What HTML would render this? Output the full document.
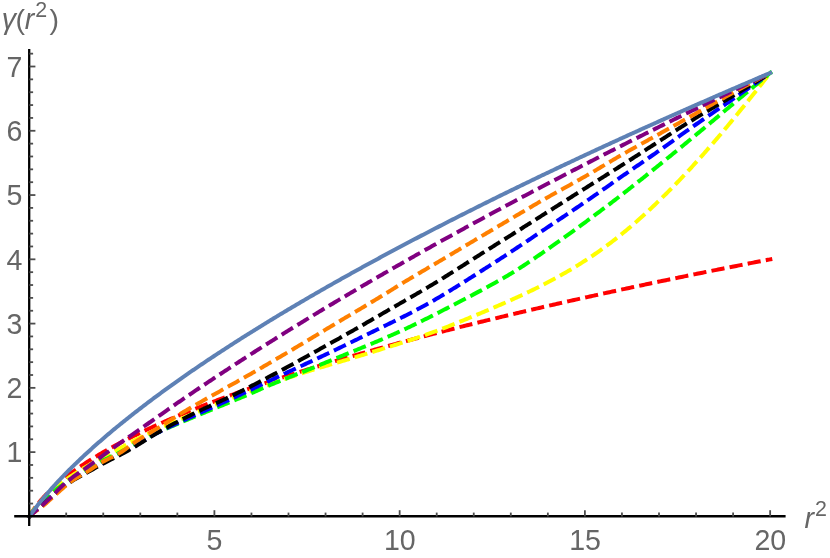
<!DOCTYPE html>
<html><head><meta charset="utf-8"><title>plot</title>
<style>
html,body{margin:0;padding:0;background:#fff;}
body{width:830px;height:558px;position:relative;overflow:hidden;font-family:"Liberation Sans",sans-serif;}
svg{display:block}
</style></head><body>
<svg width="830" height="558" viewBox="0 0 830 558" style="position:absolute;left:0;top:0">
<rect width="830" height="558" fill="#fff"/>
<path d="M29.30,516.40 L29.92,515.35 L30.54,514.32 L31.15,513.33 L31.77,512.37 L32.39,511.43 L33.01,510.51 L33.62,509.62 L34.24,508.74 L34.86,507.89 L35.48,507.05 L36.09,506.23 L36.71,505.42 L37.33,504.63 L37.95,503.85 L38.56,503.09 L39.18,502.34 L39.80,501.60 L40.41,500.87 L41.03,500.15 L41.65,499.45 L42.27,498.75 L42.88,498.06 L43.50,497.39 L44.12,496.72 L44.74,496.06 L45.36,495.41 L45.97,494.76 L46.59,494.13 L47.21,493.50 L47.83,492.88 L48.44,492.26 L49.06,491.65 L49.68,491.05 L50.30,490.45 L50.91,489.86 L51.53,489.28 L52.15,488.70 L52.77,488.13 L53.38,487.56 L54.00,487.00 L54.62,486.44 L55.23,485.89 L55.85,485.35 L56.47,484.80 L57.09,484.26 L57.70,483.73 L58.32,483.20 L58.94,482.68 L59.56,482.16 L60.17,481.64 L60.79,481.13 L61.41,480.62 L62.03,480.11 L62.64,479.61 L63.26,479.12 L63.88,478.62 L64.50,478.13 L65.11,477.64 L65.73,477.16 L66.35,476.68 L67.76,475.59 L69.17,474.52 L70.58,473.47 L71.99,472.43 L73.40,471.40 L74.81,470.39 L76.23,469.39 L77.64,468.40 L79.05,467.43 L80.46,466.46 L81.87,465.51 L83.28,464.57 L84.69,463.64 L86.10,462.71 L87.51,461.80 L88.92,460.90 L90.33,460.01 L91.74,459.12 L93.15,458.25 L94.56,457.38 L95.98,456.52 L97.39,455.67 L98.80,454.83 L100.21,453.99 L101.62,453.17 L103.03,452.34 L104.44,451.53 L105.85,450.72 L107.26,449.92 L108.67,449.13 L110.08,448.34 L111.49,447.56 L112.90,446.78 L114.31,446.01 L115.73,445.25 L117.14,444.49 L118.55,443.74 L119.96,442.99 L121.37,442.25 L122.78,441.51 L124.19,440.78 L125.60,440.05 L127.01,439.33 L128.42,438.61 L129.83,437.90 L131.24,437.19 L132.65,436.48 L134.06,435.78 L135.48,435.09 L136.89,434.40 L138.30,433.71 L139.71,433.03 L141.12,432.35 L142.53,431.67 L143.94,431.00 L145.35,430.34 L146.76,429.67 L148.17,429.01 L149.58,428.36 L150.99,427.70 L152.40,427.06 L153.81,426.41 L155.23,425.77 L156.64,425.13 L158.05,424.49 L159.46,423.86 L160.87,423.23 L162.28,422.61 L163.69,421.98 L165.10,421.36 L166.51,420.75 L167.92,420.13 L169.33,419.52 L170.74,418.91 L172.15,418.31 L173.56,417.71 L174.98,417.11 L176.39,416.51 L177.80,415.91 L179.21,415.32 L180.62,414.73 L182.03,414.15 L183.44,413.56 L184.85,412.98 L186.26,412.40 L187.67,411.83 L189.08,411.25 L190.49,410.68 L191.90,410.11 L193.31,409.54 L194.73,408.98 L196.14,408.42 L197.55,407.86 L198.96,407.30 L200.37,406.74 L201.78,406.19 L203.19,405.64 L204.60,405.09 L206.01,404.54 L207.42,404.00 L208.83,403.45 L210.24,402.91 L211.65,402.37 L213.07,401.84 L214.48,401.30 L215.89,400.77 L217.30,400.24 L218.71,399.71 L220.12,399.18 L221.53,398.66 L222.94,398.13 L224.35,397.61 L225.76,397.09 L227.17,396.57 L228.58,396.05 L229.99,395.54 L231.40,395.03 L232.82,394.51 L234.23,394.01 L235.64,393.50 L237.05,392.99 L238.46,392.49 L239.87,391.98 L241.28,391.48 L242.69,390.98 L244.10,390.48 L245.51,389.99 L246.92,389.49 L248.33,389.00 L249.74,388.51 L251.15,388.01 L252.57,387.53 L253.98,387.04 L255.39,386.55 L256.80,386.07 L258.21,385.58 L259.62,385.10 L261.03,384.62 L262.44,384.14 L263.85,383.66 L265.26,383.19 L266.67,382.71 L268.08,382.24 L269.49,381.77 L270.90,381.30 L272.32,380.83 L273.73,380.36 L275.14,379.89 L276.55,379.43 L277.96,378.96 L279.37,378.50 L280.78,378.04 L282.19,377.58 L283.60,377.12 L285.01,376.66 L286.42,376.20 L287.83,375.75 L289.24,375.29 L290.65,374.84 L292.07,374.39 L293.48,373.94 L294.89,373.49 L296.30,373.04 L297.71,372.59 L299.12,372.14 L300.53,371.70 L301.94,371.25 L303.35,370.81 L304.76,370.37 L306.17,369.93 L307.58,369.49 L308.99,369.05 L310.40,368.61 L311.82,368.17 L313.23,367.74 L314.64,367.30 L316.05,366.87 L317.46,366.44 L318.87,366.01 L320.28,365.58 L321.69,365.15 L323.10,364.72 L324.51,364.29 L325.92,363.87 L327.33,363.44 L328.74,363.02 L330.15,362.59 L331.57,362.17 L332.98,361.75 L334.39,361.33 L335.80,360.91 L337.21,360.49 L338.62,360.07 L340.03,359.66 L341.44,359.24 L342.85,358.82 L344.26,358.41 L345.67,358.00 L347.08,357.59 L348.49,357.17 L349.91,356.76 L351.32,356.35 L352.73,355.95 L354.14,355.54 L355.55,355.13 L356.96,354.72 L358.37,354.32 L359.78,353.91 L361.19,353.51 L362.60,353.11 L364.01,352.71 L365.42,352.30 L366.83,351.90 L368.24,351.50 L369.66,351.11 L371.07,350.71 L372.48,350.31 L373.89,349.91 L375.30,349.52 L376.71,349.12 L378.12,348.73 L379.53,348.34 L380.94,347.94 L382.35,347.55 L383.76,347.16 L385.17,346.77 L386.58,346.38 L387.99,345.99 L389.41,345.61 L390.82,345.22 L392.23,344.83 L393.64,344.45 L395.05,344.06 L396.46,343.68 L397.87,343.29 L399.28,342.91 L400.69,342.53 L402.10,342.15 L403.51,341.77 L404.92,341.39 L406.33,341.01 L407.74,340.63 L409.16,340.25 L410.57,339.87 L411.98,339.50 L413.39,339.12 L414.80,338.75 L416.21,338.37 L417.62,338.00 L419.03,337.63 L420.44,337.25 L421.85,336.88 L423.26,336.51 L424.67,336.14 L426.08,335.77 L427.49,335.40 L428.91,335.03 L430.32,334.66 L431.73,334.30 L433.14,333.93 L434.55,333.56 L435.96,333.20 L437.37,332.83 L438.78,332.47 L440.19,332.10 L441.60,331.74 L443.01,331.38 L444.42,331.02 L445.83,330.66 L447.24,330.30 L448.66,329.94 L450.07,329.58 L451.48,329.22 L452.89,328.86 L454.30,328.50 L455.71,328.14 L457.12,327.79 L458.53,327.43 L459.94,327.08 L461.35,326.72 L462.76,326.37 L464.17,326.01 L465.58,325.66 L466.99,325.31 L468.41,324.96 L469.82,324.60 L471.23,324.25 L472.64,323.90 L474.05,323.55 L475.46,323.20 L476.87,322.86 L478.28,322.51 L479.69,322.16 L481.10,321.81 L482.51,321.47 L483.92,321.12 L485.33,320.77 L486.74,320.43 L488.16,320.08 L489.57,319.74 L490.98,319.40 L492.39,319.05 L493.80,318.71 L495.21,318.37 L496.62,318.03 L498.03,317.69 L499.44,317.35 L500.85,317.01 L502.26,316.67 L503.67,316.33 L505.08,315.99 L506.50,315.65 L507.91,315.32 L509.32,314.98 L510.73,314.64 L512.14,314.31 L513.55,313.97 L514.96,313.64 L516.37,313.30 L517.78,312.97 L519.19,312.63 L520.60,312.30 L522.01,311.97 L523.42,311.64 L524.83,311.30 L526.25,310.97 L527.66,310.64 L529.07,310.31 L530.48,309.98 L531.89,309.65 L533.30,309.32 L534.71,308.99 L536.12,308.67 L537.53,308.34 L538.94,308.01 L540.35,307.68 L541.76,307.36 L543.17,307.03 L544.58,306.71 L546.00,306.38 L547.41,306.06 L548.82,305.73 L550.23,305.41 L551.64,305.09 L553.05,304.76 L554.46,304.44 L555.87,304.12 L557.28,303.80 L558.69,303.48 L560.10,303.16 L561.51,302.84 L562.92,302.52 L564.33,302.20 L565.75,301.88 L567.16,301.56 L568.57,301.24 L569.98,300.92 L571.39,300.61 L572.80,300.29 L574.21,299.97 L575.62,299.66 L577.03,299.34 L578.44,299.02 L579.85,298.71 L581.26,298.40 L582.67,298.08 L584.08,297.77 L585.50,297.45 L586.91,297.14 L588.32,296.83 L589.73,296.52 L591.14,296.20 L592.55,295.89 L593.96,295.58 L595.37,295.27 L596.78,294.96 L598.19,294.65 L599.60,294.34 L601.01,294.03 L602.42,293.72 L603.83,293.41 L605.25,293.11 L606.66,292.80 L608.07,292.49 L609.48,292.18 L610.89,291.88 L612.30,291.57 L613.71,291.27 L615.12,290.96 L616.53,290.66 L617.94,290.35 L619.35,290.05 L620.76,289.74 L622.17,289.44 L623.58,289.14 L625.00,288.83 L626.41,288.53 L627.82,288.23 L629.23,287.93 L630.64,287.62 L632.05,287.32 L633.46,287.02 L634.87,286.72 L636.28,286.42 L637.69,286.12 L639.10,285.82 L640.51,285.52 L641.92,285.22 L643.34,284.92 L644.75,284.63 L646.16,284.33 L647.57,284.03 L648.98,283.73 L650.39,283.44 L651.80,283.14 L653.21,282.84 L654.62,282.55 L656.03,282.25 L657.44,281.96 L658.85,281.66 L660.26,281.37 L661.67,281.07 L663.09,280.78 L664.50,280.49 L665.91,280.19 L667.32,279.90 L668.73,279.61 L670.14,279.32 L671.55,279.02 L672.96,278.73 L674.37,278.44 L675.78,278.15 L677.19,277.86 L678.60,277.57 L680.01,277.28 L681.42,276.99 L682.84,276.70 L684.25,276.41 L685.66,276.12 L687.07,275.83 L688.48,275.55 L689.89,275.26 L691.30,274.97 L692.71,274.68 L694.12,274.40 L695.53,274.11 L696.94,273.82 L698.35,273.54 L699.76,273.25 L701.17,272.97 L702.59,272.68 L704.00,272.40 L705.41,272.11 L706.82,271.83 L708.23,271.54 L709.64,271.26 L711.05,270.97 L712.46,270.69 L713.87,270.41 L715.28,270.13 L716.69,269.84 L718.10,269.56 L719.51,269.28 L720.92,269.00 L722.34,268.72 L723.75,268.44 L725.16,268.16 L726.57,267.88 L727.98,267.60 L729.39,267.32 L730.80,267.04 L732.21,266.76 L733.62,266.48 L735.03,266.20 L736.44,265.92 L737.85,265.64 L739.26,265.37 L740.67,265.09 L742.09,264.81 L743.50,264.53 L744.91,264.26 L746.32,263.98 L747.73,263.70 L749.14,263.43 L750.55,263.15 L751.96,262.88 L753.37,262.60 L754.78,262.33 L756.19,262.05 L757.60,261.78 L759.01,261.50 L760.42,261.23 L761.84,260.96 L763.25,260.68 L764.66,260.41 L766.07,260.14 L767.48,259.86 L768.89,259.59 L770.30,259.32" fill="none" stroke="#ff0000" stroke-width="4.00" stroke-dasharray="9.222,9.222" stroke-linecap="square"/>
<path d="M29.30,516.40 L29.92,515.40 L30.54,514.44 L31.15,513.51 L31.77,512.60 L32.39,511.72 L33.01,510.86 L33.62,510.03 L34.24,509.21 L34.86,508.41 L35.48,507.63 L36.09,506.86 L36.71,506.11 L37.33,505.38 L37.95,504.65 L38.56,503.94 L39.18,503.24 L39.80,502.56 L40.41,501.88 L41.03,501.21 L41.65,500.56 L42.27,499.91 L42.88,499.27 L43.50,498.64 L44.12,498.02 L44.74,497.40 L45.36,496.79 L45.97,496.19 L46.59,495.60 L47.21,495.01 L47.83,494.43 L48.44,493.86 L49.06,493.29 L49.68,492.73 L50.30,492.18 L50.91,491.63 L51.53,491.08 L52.15,490.54 L52.77,490.01 L53.38,489.48 L54.00,488.96 L54.62,488.44 L55.23,487.92 L55.85,487.42 L56.47,486.91 L57.09,486.41 L57.70,485.92 L58.32,485.43 L58.94,484.94 L59.56,484.46 L60.17,483.98 L60.79,483.51 L61.41,483.04 L62.03,482.57 L62.64,482.11 L63.26,481.66 L63.88,481.20 L64.50,480.75 L65.11,480.31 L65.73,479.86 L66.35,479.43 L67.76,478.44 L69.17,477.46 L70.58,476.51 L71.99,475.57 L73.40,474.64 L74.81,473.73 L76.23,472.82 L77.64,471.93 L79.05,471.05 L80.46,470.18 L81.87,469.32 L83.28,468.47 L84.69,467.62 L86.10,466.78 L87.51,465.95 L88.92,465.12 L90.33,464.29 L91.74,463.47 L93.15,462.66 L94.56,461.85 L95.98,461.05 L97.39,460.25 L98.80,459.46 L100.21,458.68 L101.62,457.90 L103.03,457.13 L104.44,456.37 L105.85,455.62 L107.26,454.87 L108.67,454.13 L110.08,453.39 L111.49,452.65 L112.90,451.91 L114.31,451.17 L115.73,450.43 L117.14,449.69 L118.55,448.94 L119.96,448.18 L121.37,447.42 L122.78,446.66 L124.19,445.90 L125.60,445.13 L127.01,444.37 L128.42,443.61 L129.83,442.85 L131.24,442.09 L132.65,441.35 L134.06,440.61 L135.48,439.87 L136.89,439.15 L138.30,438.44 L139.71,437.73 L141.12,437.03 L142.53,436.34 L143.94,435.66 L145.35,434.98 L146.76,434.30 L148.17,433.63 L149.58,432.97 L150.99,432.31 L152.40,431.65 L153.81,430.99 L155.23,430.34 L156.64,429.69 L158.05,429.05 L159.46,428.40 L160.87,427.76 L162.28,427.12 L163.69,426.48 L165.10,425.85 L166.51,425.22 L167.92,424.59 L169.33,423.96 L170.74,423.33 L172.15,422.71 L173.56,422.09 L174.98,421.47 L176.39,420.85 L177.80,420.24 L179.21,419.62 L180.62,419.01 L182.03,418.40 L183.44,417.79 L184.85,417.18 L186.26,416.58 L187.67,415.97 L189.08,415.37 L190.49,414.77 L191.90,414.17 L193.31,413.57 L194.73,412.98 L196.14,412.38 L197.55,411.79 L198.96,411.20 L200.37,410.61 L201.78,410.03 L203.19,409.44 L204.60,408.86 L206.01,408.29 L207.42,407.71 L208.83,407.14 L210.24,406.56 L211.65,405.99 L213.07,405.43 L214.48,404.86 L215.89,404.30 L217.30,403.74 L218.71,403.18 L220.12,402.62 L221.53,402.06 L222.94,401.51 L224.35,400.96 L225.76,400.41 L227.17,399.86 L228.58,399.31 L229.99,398.77 L231.40,398.23 L232.82,397.69 L234.23,397.15 L235.64,396.62 L237.05,396.09 L238.46,395.56 L239.87,395.03 L241.28,394.51 L242.69,393.98 L244.10,393.46 L245.51,392.95 L246.92,392.43 L248.33,391.91 L249.74,391.40 L251.15,390.89 L252.57,390.37 L253.98,389.86 L255.39,389.35 L256.80,388.84 L258.21,388.33 L259.62,387.82 L261.03,387.31 L262.44,386.80 L263.85,386.29 L265.26,385.79 L266.67,385.28 L268.08,384.78 L269.49,384.28 L270.90,383.78 L272.32,383.29 L273.73,382.79 L275.14,382.30 L276.55,381.81 L277.96,381.32 L279.37,380.84 L280.78,380.35 L282.19,379.87 L283.60,379.39 L285.01,378.91 L286.42,378.43 L287.83,377.96 L289.24,377.48 L290.65,377.01 L292.07,376.54 L293.48,376.07 L294.89,375.60 L296.30,375.13 L297.71,374.67 L299.12,374.21 L300.53,373.75 L301.94,373.29 L303.35,372.83 L304.76,372.38 L306.17,371.93 L307.58,371.49 L308.99,371.04 L310.40,370.60 L311.82,370.17 L313.23,369.73 L314.64,369.30 L316.05,368.87 L317.46,368.44 L318.87,368.02 L320.28,367.59 L321.69,367.17 L323.10,366.75 L324.51,366.33 L325.92,365.91 L327.33,365.50 L328.74,365.08 L330.15,364.67 L331.57,364.25 L332.98,363.84 L334.39,363.42 L335.80,363.01 L337.21,362.59 L338.62,362.18 L340.03,361.76 L341.44,361.35 L342.85,360.93 L344.26,360.51 L345.67,360.09 L347.08,359.67 L348.49,359.25 L349.91,358.83 L351.32,358.40 L352.73,357.98 L354.14,357.56 L355.55,357.13 L356.96,356.70 L358.37,356.27 L359.78,355.85 L361.19,355.42 L362.60,354.99 L364.01,354.56 L365.42,354.13 L366.83,353.69 L368.24,353.26 L369.66,352.83 L371.07,352.40 L372.48,351.96 L373.89,351.53 L375.30,351.09 L376.71,350.66 L378.12,350.23 L379.53,349.79 L380.94,349.36 L382.35,348.92 L383.76,348.48 L385.17,348.05 L386.58,347.61 L387.99,347.17 L389.41,346.74 L390.82,346.30 L392.23,345.86 L393.64,345.42 L395.05,344.97 L396.46,344.53 L397.87,344.08 L399.28,343.64 L400.69,343.19 L402.10,342.73 L403.51,342.28 L404.92,341.82 L406.33,341.37 L407.74,340.91 L409.16,340.44 L410.57,339.98 L411.98,339.51 L413.39,339.04 L414.80,338.57 L416.21,338.09 L417.62,337.61 L419.03,337.13 L420.44,336.64 L421.85,336.16 L423.26,335.67 L424.67,335.17 L426.08,334.67 L427.49,334.17 L428.91,333.67 L430.32,333.16 L431.73,332.65 L433.14,332.14 L434.55,331.62 L435.96,331.10 L437.37,330.57 L438.78,330.04 L440.19,329.51 L441.60,328.97 L443.01,328.44 L444.42,327.89 L445.83,327.35 L447.24,326.80 L448.66,326.24 L450.07,325.69 L451.48,325.13 L452.89,324.57 L454.30,324.01 L455.71,323.44 L457.12,322.88 L458.53,322.31 L459.94,321.73 L461.35,321.16 L462.76,320.58 L464.17,320.01 L465.58,319.43 L466.99,318.85 L468.41,318.27 L469.82,317.68 L471.23,317.10 L472.64,316.51 L474.05,315.93 L475.46,315.34 L476.87,314.75 L478.28,314.16 L479.69,313.57 L481.10,312.98 L482.51,312.39 L483.92,311.80 L485.33,311.20 L486.74,310.61 L488.16,310.01 L489.57,309.41 L490.98,308.81 L492.39,308.21 L493.80,307.60 L495.21,307.00 L496.62,306.39 L498.03,305.78 L499.44,305.17 L500.85,304.55 L502.26,303.94 L503.67,303.32 L505.08,302.70 L506.50,302.07 L507.91,301.45 L509.32,300.82 L510.73,300.19 L512.14,299.55 L513.55,298.92 L514.96,298.28 L516.37,297.64 L517.78,296.99 L519.19,296.34 L520.60,295.69 L522.01,295.03 L523.42,294.38 L524.83,293.71 L526.25,293.05 L527.66,292.38 L529.07,291.70 L530.48,291.02 L531.89,290.34 L533.30,289.65 L534.71,288.96 L536.12,288.27 L537.53,287.57 L538.94,286.86 L540.35,286.15 L541.76,285.44 L543.17,284.72 L544.58,284.00 L546.00,283.27 L547.41,282.53 L548.82,281.79 L550.23,281.05 L551.64,280.30 L553.05,279.54 L554.46,278.78 L555.87,278.01 L557.28,277.23 L558.69,276.45 L560.10,275.67 L561.51,274.87 L562.92,274.07 L564.33,273.27 L565.75,272.46 L567.16,271.64 L568.57,270.81 L569.98,269.98 L571.39,269.14 L572.80,268.30 L574.21,267.45 L575.62,266.59 L577.03,265.72 L578.44,264.85 L579.85,263.96 L581.26,263.08 L582.67,262.18 L584.08,261.28 L585.50,260.36 L586.91,259.44 L588.32,258.52 L589.73,257.58 L591.14,256.64 L592.55,255.69 L593.96,254.73 L595.37,253.76 L596.78,252.78 L598.19,251.80 L599.60,250.81 L601.01,249.80 L602.42,248.79 L603.83,247.77 L605.25,246.75 L606.66,245.71 L608.07,244.66 L609.48,243.61 L610.89,242.54 L612.30,241.47 L613.71,240.39 L615.12,239.30 L616.53,238.20 L617.94,237.08 L619.35,235.96 L620.76,234.83 L622.17,233.69 L623.58,232.54 L625.00,231.38 L626.41,230.22 L627.82,229.04 L629.23,227.85 L630.64,226.65 L632.05,225.44 L633.46,224.23 L634.87,223.00 L636.28,221.77 L637.69,220.53 L639.10,219.28 L640.51,218.02 L641.92,216.75 L643.34,215.47 L644.75,214.18 L646.16,212.89 L647.57,211.59 L648.98,210.28 L650.39,208.96 L651.80,207.63 L653.21,206.30 L654.62,204.96 L656.03,203.61 L657.44,202.25 L658.85,200.89 L660.26,199.52 L661.67,198.14 L663.09,196.75 L664.50,195.36 L665.91,193.96 L667.32,192.55 L668.73,191.14 L670.14,189.72 L671.55,188.29 L672.96,186.85 L674.37,185.41 L675.78,183.96 L677.19,182.50 L678.60,181.04 L680.01,179.57 L681.42,178.09 L682.84,176.60 L684.25,175.11 L685.66,173.61 L687.07,172.10 L688.48,170.59 L689.89,169.07 L691.30,167.54 L692.71,166.00 L694.12,164.46 L695.53,162.91 L696.94,161.35 L698.35,159.79 L699.76,158.22 L701.17,156.64 L702.59,155.06 L704.00,153.47 L705.41,151.87 L706.82,150.27 L708.23,148.66 L709.64,147.04 L711.05,145.42 L712.46,143.79 L713.87,142.16 L715.28,140.52 L716.69,138.87 L718.10,137.22 L719.51,135.57 L720.92,133.90 L722.34,132.23 L723.75,130.56 L725.16,128.88 L726.57,127.20 L727.98,125.51 L729.39,123.81 L730.80,122.11 L732.21,120.41 L733.62,118.70 L735.03,116.99 L736.44,115.27 L737.85,113.55 L739.26,111.82 L740.67,110.09 L742.09,108.35 L743.50,106.61 L744.91,104.87 L746.32,103.12 L747.73,101.36 L749.14,99.61 L750.55,97.85 L751.96,96.08 L753.37,94.31 L754.78,92.54 L756.19,90.76 L757.60,88.99 L759.01,87.21 L760.42,85.42 L761.84,83.64 L763.25,81.85 L764.66,80.06 L766.07,78.27 L767.48,76.48 L768.89,74.69 L770.30,72.90" fill="none" stroke="#ffff00" stroke-width="4.00" stroke-dasharray="9.222,9.222" stroke-linecap="square"/>
<path d="M29.30,516.40 L29.92,515.47 L30.54,514.58 L31.15,513.72 L31.77,512.88 L32.39,512.07 L33.01,511.28 L33.62,510.51 L34.24,509.76 L34.86,509.03 L35.48,508.32 L36.09,507.62 L36.71,506.93 L37.33,506.26 L37.95,505.60 L38.56,504.95 L39.18,504.32 L39.80,503.69 L40.41,503.08 L41.03,502.47 L41.65,501.87 L42.27,501.28 L42.88,500.69 L43.50,500.12 L44.12,499.55 L44.74,498.99 L45.36,498.43 L45.97,497.88 L46.59,497.33 L47.21,496.80 L47.83,496.26 L48.44,495.74 L49.06,495.22 L49.68,494.70 L50.30,494.19 L50.91,493.68 L51.53,493.18 L52.15,492.68 L52.77,492.19 L53.38,491.71 L54.00,491.23 L54.62,490.75 L55.23,490.27 L55.85,489.81 L56.47,489.34 L57.09,488.88 L57.70,488.42 L58.32,487.97 L58.94,487.52 L59.56,487.08 L60.17,486.64 L60.79,486.20 L61.41,485.77 L62.03,485.34 L62.64,484.91 L63.26,484.49 L63.88,484.07 L64.50,483.66 L65.11,483.24 L65.73,482.83 L66.35,482.43 L67.76,481.50 L69.17,480.59 L70.58,479.68 L71.99,478.78 L73.40,477.89 L74.81,477.00 L76.23,476.12 L77.64,475.25 L79.05,474.38 L80.46,473.51 L81.87,472.65 L83.28,471.80 L84.69,470.94 L86.10,470.10 L87.51,469.25 L88.92,468.42 L90.33,467.58 L91.74,466.75 L93.15,465.93 L94.56,465.12 L95.98,464.32 L97.39,463.53 L98.80,462.75 L100.21,461.99 L101.62,461.24 L103.03,460.52 L104.44,459.81 L105.85,459.12 L107.26,458.45 L108.67,457.78 L110.08,457.12 L111.49,456.46 L112.90,455.80 L114.31,455.13 L115.73,454.45 L117.14,453.76 L118.55,453.04 L119.96,452.31 L121.37,451.56 L122.78,450.79 L124.19,450.01 L125.60,449.22 L127.01,448.43 L128.42,447.63 L129.83,446.82 L131.24,446.02 L132.65,445.23 L134.06,444.44 L135.48,443.65 L136.89,442.89 L138.30,442.13 L139.71,441.38 L141.12,440.64 L142.53,439.91 L143.94,439.19 L145.35,438.48 L146.76,437.78 L148.17,437.08 L149.58,436.39 L150.99,435.71 L152.40,435.04 L153.81,434.37 L155.23,433.71 L156.64,433.06 L158.05,432.41 L159.46,431.76 L160.87,431.13 L162.28,430.49 L163.69,429.86 L165.10,429.24 L166.51,428.61 L167.92,428.00 L169.33,427.38 L170.74,426.77 L172.15,426.16 L173.56,425.56 L174.98,424.96 L176.39,424.35 L177.80,423.76 L179.21,423.16 L180.62,422.56 L182.03,421.97 L183.44,421.38 L184.85,420.78 L186.26,420.19 L187.67,419.60 L189.08,419.01 L190.49,418.42 L191.90,417.83 L193.31,417.24 L194.73,416.65 L196.14,416.06 L197.55,415.48 L198.96,414.89 L200.37,414.31 L201.78,413.72 L203.19,413.14 L204.60,412.56 L206.01,411.99 L207.42,411.41 L208.83,410.83 L210.24,410.26 L211.65,409.69 L213.07,409.11 L214.48,408.54 L215.89,407.97 L217.30,407.39 L218.71,406.82 L220.12,406.25 L221.53,405.67 L222.94,405.10 L224.35,404.52 L225.76,403.94 L227.17,403.36 L228.58,402.78 L229.99,402.20 L231.40,401.62 L232.82,401.04 L234.23,400.45 L235.64,399.86 L237.05,399.27 L238.46,398.68 L239.87,398.09 L241.28,397.50 L242.69,396.90 L244.10,396.30 L245.51,395.70 L246.92,395.10 L248.33,394.49 L249.74,393.89 L251.15,393.28 L252.57,392.67 L253.98,392.06 L255.39,391.44 L256.80,390.83 L258.21,390.21 L259.62,389.60 L261.03,388.98 L262.44,388.37 L263.85,387.75 L265.26,387.14 L266.67,386.53 L268.08,385.93 L269.49,385.32 L270.90,384.73 L272.32,384.13 L273.73,383.54 L275.14,382.96 L276.55,382.37 L277.96,381.79 L279.37,381.22 L280.78,380.64 L282.19,380.07 L283.60,379.50 L285.01,378.94 L286.42,378.37 L287.83,377.81 L289.24,377.25 L290.65,376.69 L292.07,376.12 L293.48,375.57 L294.89,375.01 L296.30,374.45 L297.71,373.89 L299.12,373.33 L300.53,372.77 L301.94,372.21 L303.35,371.64 L304.76,371.08 L306.17,370.52 L307.58,369.95 L308.99,369.38 L310.40,368.81 L311.82,368.24 L313.23,367.67 L314.64,367.09 L316.05,366.52 L317.46,365.94 L318.87,365.36 L320.28,364.79 L321.69,364.21 L323.10,363.63 L324.51,363.04 L325.92,362.46 L327.33,361.88 L328.74,361.30 L330.15,360.72 L331.57,360.13 L332.98,359.55 L334.39,358.97 L335.80,358.39 L337.21,357.81 L338.62,357.22 L340.03,356.64 L341.44,356.06 L342.85,355.48 L344.26,354.91 L345.67,354.33 L347.08,353.75 L348.49,353.18 L349.91,352.60 L351.32,352.03 L352.73,351.45 L354.14,350.88 L355.55,350.31 L356.96,349.73 L358.37,349.16 L359.78,348.58 L361.19,348.01 L362.60,347.43 L364.01,346.85 L365.42,346.27 L366.83,345.69 L368.24,345.11 L369.66,344.53 L371.07,343.94 L372.48,343.36 L373.89,342.77 L375.30,342.18 L376.71,341.59 L378.12,340.99 L379.53,340.39 L380.94,339.79 L382.35,339.19 L383.76,338.59 L385.17,337.98 L386.58,337.36 L387.99,336.75 L389.41,336.13 L390.82,335.51 L392.23,334.88 L393.64,334.26 L395.05,333.62 L396.46,332.99 L397.87,332.35 L399.28,331.71 L400.69,331.06 L402.10,330.41 L403.51,329.76 L404.92,329.10 L406.33,328.44 L407.74,327.78 L409.16,327.11 L410.57,326.44 L411.98,325.77 L413.39,325.09 L414.80,324.41 L416.21,323.73 L417.62,323.05 L419.03,322.36 L420.44,321.67 L421.85,320.98 L423.26,320.28 L424.67,319.58 L426.08,318.88 L427.49,318.18 L428.91,317.47 L430.32,316.77 L431.73,316.06 L433.14,315.35 L434.55,314.63 L435.96,313.92 L437.37,313.20 L438.78,312.48 L440.19,311.76 L441.60,311.04 L443.01,310.32 L444.42,309.59 L445.83,308.87 L447.24,308.14 L448.66,307.41 L450.07,306.68 L451.48,305.95 L452.89,305.21 L454.30,304.48 L455.71,303.75 L457.12,303.01 L458.53,302.27 L459.94,301.53 L461.35,300.79 L462.76,300.05 L464.17,299.31 L465.58,298.57 L466.99,297.83 L468.41,297.09 L469.82,296.34 L471.23,295.60 L472.64,294.86 L474.05,294.11 L475.46,293.37 L476.87,292.62 L478.28,291.87 L479.69,291.13 L481.10,290.38 L482.51,289.62 L483.92,288.87 L485.33,288.11 L486.74,287.36 L488.16,286.59 L489.57,285.83 L490.98,285.06 L492.39,284.29 L493.80,283.51 L495.21,282.73 L496.62,281.94 L498.03,281.15 L499.44,280.35 L500.85,279.54 L502.26,278.73 L503.67,277.92 L505.08,277.09 L506.50,276.26 L507.91,275.42 L509.32,274.58 L510.73,273.72 L512.14,272.86 L513.55,271.99 L514.96,271.11 L516.37,270.23 L517.78,269.34 L519.19,268.44 L520.60,267.53 L522.01,266.62 L523.42,265.70 L524.83,264.77 L526.25,263.84 L527.66,262.90 L529.07,261.96 L530.48,261.01 L531.89,260.06 L533.30,259.10 L534.71,258.14 L536.12,257.17 L537.53,256.20 L538.94,255.23 L540.35,254.26 L541.76,253.28 L543.17,252.30 L544.58,251.31 L546.00,250.33 L547.41,249.34 L548.82,248.35 L550.23,247.36 L551.64,246.36 L553.05,245.37 L554.46,244.37 L555.87,243.37 L557.28,242.37 L558.69,241.37 L560.10,240.37 L561.51,239.37 L562.92,238.36 L564.33,237.35 L565.75,236.34 L567.16,235.33 L568.57,234.32 L569.98,233.30 L571.39,232.29 L572.80,231.27 L574.21,230.25 L575.62,229.23 L577.03,228.20 L578.44,227.18 L579.85,226.15 L581.26,225.12 L582.67,224.09 L584.08,223.06 L585.50,222.03 L586.91,220.99 L588.32,219.95 L589.73,218.91 L591.14,217.87 L592.55,216.83 L593.96,215.78 L595.37,214.73 L596.78,213.68 L598.19,212.63 L599.60,211.58 L601.01,210.52 L602.42,209.46 L603.83,208.40 L605.25,207.34 L606.66,206.27 L608.07,205.21 L609.48,204.14 L610.89,203.06 L612.30,201.99 L613.71,200.91 L615.12,199.83 L616.53,198.75 L617.94,197.67 L619.35,196.58 L620.76,195.49 L622.17,194.40 L623.58,193.30 L625.00,192.20 L626.41,191.10 L627.82,190.00 L629.23,188.89 L630.64,187.79 L632.05,186.68 L633.46,185.56 L634.87,184.45 L636.28,183.33 L637.69,182.22 L639.10,181.10 L640.51,179.97 L641.92,178.85 L643.34,177.72 L644.75,176.60 L646.16,175.47 L647.57,174.34 L648.98,173.20 L650.39,172.07 L651.80,170.93 L653.21,169.80 L654.62,168.66 L656.03,167.52 L657.44,166.38 L658.85,165.24 L660.26,164.10 L661.67,162.96 L663.09,161.81 L664.50,160.67 L665.91,159.52 L667.32,158.38 L668.73,157.23 L670.14,156.08 L671.55,154.93 L672.96,153.78 L674.37,152.63 L675.78,151.48 L677.19,150.32 L678.60,149.17 L680.01,148.01 L681.42,146.86 L682.84,145.70 L684.25,144.54 L685.66,143.38 L687.07,142.22 L688.48,141.06 L689.89,139.89 L691.30,138.73 L692.71,137.56 L694.12,136.40 L695.53,135.23 L696.94,134.06 L698.35,132.89 L699.76,131.72 L701.17,130.54 L702.59,129.37 L704.00,128.20 L705.41,127.02 L706.82,125.84 L708.23,124.67 L709.64,123.49 L711.05,122.31 L712.46,121.13 L713.87,119.96 L715.28,118.78 L716.69,117.60 L718.10,116.42 L719.51,115.24 L720.92,114.06 L722.34,112.88 L723.75,111.70 L725.16,110.52 L726.57,109.34 L727.98,108.16 L729.39,106.98 L730.80,105.80 L732.21,104.62 L733.62,103.44 L735.03,102.26 L736.44,101.09 L737.85,99.91 L739.26,98.73 L740.67,97.56 L742.09,96.38 L743.50,95.21 L744.91,94.03 L746.32,92.86 L747.73,91.68 L749.14,90.51 L750.55,89.33 L751.96,88.16 L753.37,86.98 L754.78,85.81 L756.19,84.64 L757.60,83.46 L759.01,82.29 L760.42,81.11 L761.84,79.94 L763.25,78.77 L764.66,77.60 L766.07,76.42 L767.48,75.25 L768.89,74.08 L770.30,72.90" fill="none" stroke="#00ff00" stroke-width="4.00" stroke-dasharray="9.222,9.222" stroke-linecap="square"/>
<path d="M29.30,516.40 L29.92,515.69 L30.54,515.01 L31.15,514.37 L31.77,513.74 L32.39,513.14 L33.01,512.56 L33.62,511.99 L34.24,511.44 L34.86,510.91 L35.48,510.38 L36.09,509.86 L36.71,509.36 L37.33,508.85 L37.95,508.36 L38.56,507.86 L39.18,507.37 L39.80,506.88 L40.41,506.38 L41.03,505.89 L41.65,505.39 L42.27,504.89 L42.88,504.38 L43.50,503.87 L44.12,503.35 L44.74,502.83 L45.36,502.31 L45.97,501.78 L46.59,501.25 L47.21,500.72 L47.83,500.18 L48.44,499.64 L49.06,499.09 L49.68,498.54 L50.30,497.99 L50.91,497.44 L51.53,496.88 L52.15,496.32 L52.77,495.76 L53.38,495.20 L54.00,494.64 L54.62,494.08 L55.23,493.52 L55.85,492.96 L56.47,492.40 L57.09,491.85 L57.70,491.30 L58.32,490.76 L58.94,490.21 L59.56,489.68 L60.17,489.15 L60.79,488.63 L61.41,488.12 L62.03,487.61 L62.64,487.11 L63.26,486.63 L63.88,486.15 L64.50,485.68 L65.11,485.22 L65.73,484.77 L66.35,484.32 L67.76,483.33 L69.17,482.37 L70.58,481.44 L71.99,480.53 L73.40,479.64 L74.81,478.77 L76.23,477.92 L77.64,477.08 L79.05,476.26 L80.46,475.44 L81.87,474.63 L83.28,473.83 L84.69,473.03 L86.10,472.23 L87.51,471.43 L88.92,470.62 L90.33,469.81 L91.74,469.00 L93.15,468.18 L94.56,467.37 L95.98,466.56 L97.39,465.76 L98.80,464.96 L100.21,464.17 L101.62,463.39 L103.03,462.63 L104.44,461.88 L105.85,461.15 L107.26,460.42 L108.67,459.71 L110.08,459.00 L111.49,458.30 L112.90,457.60 L114.31,456.89 L115.73,456.18 L117.14,455.47 L118.55,454.74 L119.96,454.01 L121.37,453.26 L122.78,452.50 L124.19,451.74 L125.60,450.96 L127.01,450.18 L128.42,449.39 L129.83,448.59 L131.24,447.78 L132.65,446.97 L134.06,446.16 L135.48,445.34 L136.89,444.51 L138.30,443.69 L139.71,442.86 L141.12,442.03 L142.53,441.20 L143.94,440.38 L145.35,439.56 L146.76,438.75 L148.17,437.94 L149.58,437.15 L150.99,436.36 L152.40,435.58 L153.81,434.81 L155.23,434.06 L156.64,433.31 L158.05,432.58 L159.46,431.85 L160.87,431.13 L162.28,430.42 L163.69,429.72 L165.10,429.03 L166.51,428.34 L167.92,427.66 L169.33,426.98 L170.74,426.31 L172.15,425.64 L173.56,424.98 L174.98,424.32 L176.39,423.67 L177.80,423.02 L179.21,422.37 L180.62,421.72 L182.03,421.07 L183.44,420.43 L184.85,419.78 L186.26,419.14 L187.67,418.49 L189.08,417.85 L190.49,417.21 L191.90,416.56 L193.31,415.92 L194.73,415.28 L196.14,414.64 L197.55,414.00 L198.96,413.36 L200.37,412.72 L201.78,412.09 L203.19,411.45 L204.60,410.82 L206.01,410.19 L207.42,409.57 L208.83,408.94 L210.24,408.31 L211.65,407.69 L213.07,407.06 L214.48,406.44 L215.89,405.81 L217.30,405.18 L218.71,404.55 L220.12,403.92 L221.53,403.29 L222.94,402.65 L224.35,402.01 L225.76,401.37 L227.17,400.73 L228.58,400.08 L229.99,399.43 L231.40,398.78 L232.82,398.13 L234.23,397.47 L235.64,396.82 L237.05,396.16 L238.46,395.50 L239.87,394.84 L241.28,394.18 L242.69,393.52 L244.10,392.86 L245.51,392.20 L246.92,391.53 L248.33,390.87 L249.74,390.21 L251.15,389.54 L252.57,388.87 L253.98,388.21 L255.39,387.54 L256.80,386.87 L258.21,386.21 L259.62,385.54 L261.03,384.87 L262.44,384.20 L263.85,383.54 L265.26,382.87 L266.67,382.20 L268.08,381.53 L269.49,380.86 L270.90,380.19 L272.32,379.51 L273.73,378.84 L275.14,378.17 L276.55,377.50 L277.96,376.83 L279.37,376.16 L280.78,375.49 L282.19,374.82 L283.60,374.16 L285.01,373.49 L286.42,372.83 L287.83,372.16 L289.24,371.51 L290.65,370.85 L292.07,370.19 L293.48,369.54 L294.89,368.89 L296.30,368.23 L297.71,367.58 L299.12,366.93 L300.53,366.28 L301.94,365.63 L303.35,364.98 L304.76,364.33 L306.17,363.68 L307.58,363.03 L308.99,362.37 L310.40,361.71 L311.82,361.06 L313.23,360.40 L314.64,359.74 L316.05,359.08 L317.46,358.41 L318.87,357.75 L320.28,357.08 L321.69,356.42 L323.10,355.75 L324.51,355.08 L325.92,354.41 L327.33,353.74 L328.74,353.07 L330.15,352.39 L331.57,351.72 L332.98,351.04 L334.39,350.37 L335.80,349.69 L337.21,349.01 L338.62,348.33 L340.03,347.65 L341.44,346.97 L342.85,346.29 L344.26,345.60 L345.67,344.92 L347.08,344.24 L348.49,343.55 L349.91,342.86 L351.32,342.18 L352.73,341.49 L354.14,340.80 L355.55,340.12 L356.96,339.43 L358.37,338.74 L359.78,338.05 L361.19,337.36 L362.60,336.67 L364.01,335.98 L365.42,335.29 L366.83,334.60 L368.24,333.91 L369.66,333.22 L371.07,332.53 L372.48,331.84 L373.89,331.15 L375.30,330.47 L376.71,329.78 L378.12,329.09 L379.53,328.40 L380.94,327.71 L382.35,327.03 L383.76,326.34 L385.17,325.66 L386.58,324.97 L387.99,324.28 L389.41,323.59 L390.82,322.90 L392.23,322.21 L393.64,321.52 L395.05,320.83 L396.46,320.13 L397.87,319.43 L399.28,318.73 L400.69,318.02 L402.10,317.32 L403.51,316.60 L404.92,315.89 L406.33,315.17 L407.74,314.45 L409.16,313.72 L410.57,312.99 L411.98,312.26 L413.39,311.52 L414.80,310.77 L416.21,310.03 L417.62,309.28 L419.03,308.52 L420.44,307.76 L421.85,307.00 L423.26,306.23 L424.67,305.45 L426.08,304.68 L427.49,303.89 L428.91,303.10 L430.32,302.31 L431.73,301.51 L433.14,300.71 L434.55,299.90 L435.96,299.08 L437.37,298.26 L438.78,297.44 L440.19,296.61 L441.60,295.77 L443.01,294.93 L444.42,294.09 L445.83,293.23 L447.24,292.38 L448.66,291.52 L450.07,290.66 L451.48,289.79 L452.89,288.92 L454.30,288.05 L455.71,287.18 L457.12,286.30 L458.53,285.41 L459.94,284.53 L461.35,283.64 L462.76,282.76 L464.17,281.87 L465.58,280.97 L466.99,280.08 L468.41,279.18 L469.82,278.29 L471.23,277.39 L472.64,276.49 L474.05,275.60 L475.46,274.70 L476.87,273.80 L478.28,272.90 L479.69,272.00 L481.10,271.10 L482.51,270.20 L483.92,269.29 L485.33,268.39 L486.74,267.49 L488.16,266.58 L489.57,265.68 L490.98,264.77 L492.39,263.86 L493.80,262.95 L495.21,262.04 L496.62,261.13 L498.03,260.22 L499.44,259.31 L500.85,258.39 L502.26,257.47 L503.67,256.55 L505.08,255.63 L506.50,254.71 L507.91,253.79 L509.32,252.86 L510.73,251.94 L512.14,251.01 L513.55,250.07 L514.96,249.14 L516.37,248.21 L517.78,247.27 L519.19,246.33 L520.60,245.39 L522.01,244.45 L523.42,243.51 L524.83,242.57 L526.25,241.63 L527.66,240.68 L529.07,239.74 L530.48,238.79 L531.89,237.84 L533.30,236.90 L534.71,235.95 L536.12,235.00 L537.53,234.05 L538.94,233.10 L540.35,232.16 L541.76,231.21 L543.17,230.26 L544.58,229.31 L546.00,228.37 L547.41,227.42 L548.82,226.47 L550.23,225.53 L551.64,224.58 L553.05,223.64 L554.46,222.69 L555.87,221.75 L557.28,220.81 L558.69,219.86 L560.10,218.92 L561.51,217.97 L562.92,217.03 L564.33,216.08 L565.75,215.13 L567.16,214.19 L568.57,213.24 L569.98,212.29 L571.39,211.34 L572.80,210.39 L574.21,209.43 L575.62,208.48 L577.03,207.52 L578.44,206.57 L579.85,205.61 L581.26,204.64 L582.67,203.68 L584.08,202.71 L585.50,201.75 L586.91,200.78 L588.32,199.80 L589.73,198.83 L591.14,197.85 L592.55,196.87 L593.96,195.89 L595.37,194.91 L596.78,193.93 L598.19,192.95 L599.60,191.96 L601.01,190.98 L602.42,189.99 L603.83,189.01 L605.25,188.02 L606.66,187.03 L608.07,186.04 L609.48,185.06 L610.89,184.07 L612.30,183.08 L613.71,182.10 L615.12,181.11 L616.53,180.13 L617.94,179.15 L619.35,178.16 L620.76,177.18 L622.17,176.20 L623.58,175.22 L625.00,174.25 L626.41,173.27 L627.82,172.30 L629.23,171.33 L630.64,170.35 L632.05,169.38 L633.46,168.41 L634.87,167.44 L636.28,166.47 L637.69,165.50 L639.10,164.52 L640.51,163.55 L641.92,162.58 L643.34,161.61 L644.75,160.63 L646.16,159.66 L647.57,158.68 L648.98,157.70 L650.39,156.73 L651.80,155.74 L653.21,154.76 L654.62,153.78 L656.03,152.79 L657.44,151.80 L658.85,150.81 L660.26,149.82 L661.67,148.82 L663.09,147.82 L664.50,146.82 L665.91,145.82 L667.32,144.81 L668.73,143.81 L670.14,142.80 L671.55,141.79 L672.96,140.79 L674.37,139.78 L675.78,138.77 L677.19,137.76 L678.60,136.75 L680.01,135.74 L681.42,134.73 L682.84,133.73 L684.25,132.72 L685.66,131.72 L687.07,130.71 L688.48,129.71 L689.89,128.71 L691.30,127.72 L692.71,126.72 L694.12,125.73 L695.53,124.74 L696.94,123.76 L698.35,122.77 L699.76,121.79 L701.17,120.82 L702.59,119.84 L704.00,118.87 L705.41,117.90 L706.82,116.93 L708.23,115.96 L709.64,115.00 L711.05,114.03 L712.46,113.07 L713.87,112.11 L715.28,111.15 L716.69,110.18 L718.10,109.22 L719.51,108.26 L720.92,107.30 L722.34,106.34 L723.75,105.37 L725.16,104.41 L726.57,103.45 L727.98,102.48 L729.39,101.51 L730.80,100.54 L732.21,99.57 L733.62,98.59 L735.03,97.62 L736.44,96.64 L737.85,95.66 L739.26,94.68 L740.67,93.69 L742.09,92.71 L743.50,91.72 L744.91,90.73 L746.32,89.74 L747.73,88.75 L749.14,87.76 L750.55,86.77 L751.96,85.78 L753.37,84.79 L754.78,83.80 L756.19,82.81 L757.60,81.82 L759.01,80.83 L760.42,79.84 L761.84,78.85 L763.25,77.86 L764.66,76.87 L766.07,75.87 L767.48,74.88 L768.89,73.89 L770.30,72.90" fill="none" stroke="#0000ff" stroke-width="4.00" stroke-dasharray="9.222,9.222" stroke-linecap="square"/>
<path d="M29.30,516.40 L29.92,515.70 L30.54,515.02 L31.15,514.38 L31.77,513.76 L32.39,513.16 L33.01,512.59 L33.62,512.02 L34.24,511.48 L34.86,510.95 L35.48,510.43 L36.09,509.92 L36.71,509.41 L37.33,508.92 L37.95,508.42 L38.56,507.93 L39.18,507.45 L39.80,506.96 L40.41,506.47 L41.03,505.98 L41.65,505.49 L42.27,504.99 L42.88,504.49 L43.50,503.99 L44.12,503.48 L44.74,502.97 L45.36,502.45 L45.97,501.93 L46.59,501.40 L47.21,500.87 L47.83,500.34 L48.44,499.81 L49.06,499.27 L49.68,498.73 L50.30,498.18 L50.91,497.63 L51.53,497.08 L52.15,496.53 L52.77,495.97 L53.38,495.42 L54.00,494.86 L54.62,494.30 L55.23,493.75 L55.85,493.19 L56.47,492.64 L57.09,492.09 L57.70,491.55 L58.32,491.01 L58.94,490.47 L59.56,489.95 L60.17,489.42 L60.79,488.91 L61.41,488.40 L62.03,487.90 L62.64,487.41 L63.26,486.93 L63.88,486.47 L64.50,486.01 L65.11,485.56 L65.73,485.11 L66.35,484.68 L67.76,483.71 L69.17,482.78 L70.58,481.88 L71.99,481.01 L73.40,480.16 L74.81,479.33 L76.23,478.51 L77.64,477.72 L79.05,476.93 L80.46,476.15 L81.87,475.38 L83.28,474.62 L84.69,473.85 L86.10,473.08 L87.51,472.31 L88.92,471.53 L90.33,470.74 L91.74,469.95 L93.15,469.15 L94.56,468.34 L95.98,467.54 L97.39,466.75 L98.80,465.95 L100.21,465.17 L101.62,464.39 L103.03,463.63 L104.44,462.88 L105.85,462.14 L107.26,461.42 L108.67,460.70 L110.08,459.99 L111.49,459.29 L112.90,458.59 L114.31,457.88 L115.73,457.17 L117.14,456.46 L118.55,455.74 L119.96,455.02 L121.37,454.28 L122.78,453.53 L124.19,452.77 L125.60,452.00 L127.01,451.23 L128.42,450.44 L129.83,449.64 L131.24,448.83 L132.65,448.00 L134.06,447.17 L135.48,446.33 L136.89,445.47 L138.30,444.60 L139.71,443.73 L141.12,442.85 L142.53,441.97 L143.94,441.09 L145.35,440.20 L146.76,439.32 L148.17,438.44 L149.58,437.56 L150.99,436.69 L152.40,435.83 L153.81,434.98 L155.23,434.13 L156.64,433.30 L158.05,432.47 L159.46,431.65 L160.87,430.84 L162.28,430.03 L163.69,429.24 L165.10,428.45 L166.51,427.66 L167.92,426.88 L169.33,426.11 L170.74,425.35 L172.15,424.59 L173.56,423.84 L174.98,423.09 L176.39,422.35 L177.80,421.61 L179.21,420.88 L180.62,420.15 L182.03,419.42 L183.44,418.70 L184.85,417.99 L186.26,417.28 L187.67,416.57 L189.08,415.86 L190.49,415.16 L191.90,414.47 L193.31,413.77 L194.73,413.09 L196.14,412.40 L197.55,411.72 L198.96,411.05 L200.37,410.38 L201.78,409.72 L203.19,409.06 L204.60,408.40 L206.01,407.75 L207.42,407.11 L208.83,406.47 L210.24,405.83 L211.65,405.19 L213.07,404.55 L214.48,403.91 L215.89,403.27 L217.30,402.63 L218.71,401.99 L220.12,401.34 L221.53,400.69 L222.94,400.04 L224.35,399.38 L225.76,398.72 L227.17,398.05 L228.58,397.38 L229.99,396.70 L231.40,396.02 L232.82,395.33 L234.23,394.64 L235.64,393.95 L237.05,393.25 L238.46,392.55 L239.87,391.85 L241.28,391.14 L242.69,390.43 L244.10,389.72 L245.51,389.00 L246.92,388.29 L248.33,387.57 L249.74,386.84 L251.15,386.12 L252.57,385.39 L253.98,384.67 L255.39,383.94 L256.80,383.21 L258.21,382.48 L259.62,381.74 L261.03,381.01 L262.44,380.28 L263.85,379.54 L265.26,378.80 L266.67,378.07 L268.08,377.33 L269.49,376.59 L270.90,375.85 L272.32,375.11 L273.73,374.36 L275.14,373.62 L276.55,372.87 L277.96,372.13 L279.37,371.38 L280.78,370.62 L282.19,369.87 L283.60,369.11 L285.01,368.36 L286.42,367.59 L287.83,366.83 L289.24,366.06 L290.65,365.29 L292.07,364.51 L293.48,363.73 L294.89,362.95 L296.30,362.17 L297.71,361.39 L299.12,360.60 L300.53,359.82 L301.94,359.03 L303.35,358.25 L304.76,357.46 L306.17,356.67 L307.58,355.89 L308.99,355.10 L310.40,354.32 L311.82,353.54 L313.23,352.76 L314.64,351.97 L316.05,351.19 L317.46,350.41 L318.87,349.63 L320.28,348.85 L321.69,348.07 L323.10,347.29 L324.51,346.51 L325.92,345.73 L327.33,344.95 L328.74,344.17 L330.15,343.38 L331.57,342.60 L332.98,341.82 L334.39,341.03 L335.80,340.25 L337.21,339.46 L338.62,338.67 L340.03,337.88 L341.44,337.09 L342.85,336.30 L344.26,335.50 L345.67,334.70 L347.08,333.91 L348.49,333.11 L349.91,332.31 L351.32,331.50 L352.73,330.70 L354.14,329.89 L355.55,329.09 L356.96,328.28 L358.37,327.47 L359.78,326.66 L361.19,325.85 L362.60,325.04 L364.01,324.23 L365.42,323.41 L366.83,322.60 L368.24,321.78 L369.66,320.97 L371.07,320.15 L372.48,319.34 L373.89,318.52 L375.30,317.71 L376.71,316.89 L378.12,316.08 L379.53,315.26 L380.94,314.45 L382.35,313.63 L383.76,312.81 L385.17,312.00 L386.58,311.19 L387.99,310.37 L389.41,309.56 L390.82,308.74 L392.23,307.93 L393.64,307.12 L395.05,306.31 L396.46,305.49 L397.87,304.68 L399.28,303.87 L400.69,303.06 L402.10,302.25 L403.51,301.44 L404.92,300.62 L406.33,299.81 L407.74,299.00 L409.16,298.19 L410.57,297.38 L411.98,296.56 L413.39,295.75 L414.80,294.93 L416.21,294.11 L417.62,293.29 L419.03,292.47 L420.44,291.65 L421.85,290.82 L423.26,289.99 L424.67,289.16 L426.08,288.33 L427.49,287.49 L428.91,286.65 L430.32,285.81 L431.73,284.97 L433.14,284.12 L434.55,283.27 L435.96,282.41 L437.37,281.55 L438.78,280.69 L440.19,279.82 L441.60,278.95 L443.01,278.07 L444.42,277.19 L445.83,276.31 L447.24,275.43 L448.66,274.54 L450.07,273.65 L451.48,272.76 L452.89,271.87 L454.30,270.98 L455.71,270.08 L457.12,269.19 L458.53,268.29 L459.94,267.39 L461.35,266.49 L462.76,265.59 L464.17,264.69 L465.58,263.79 L466.99,262.89 L468.41,261.99 L469.82,261.09 L471.23,260.19 L472.64,259.29 L474.05,258.40 L475.46,257.50 L476.87,256.61 L478.28,255.71 L479.69,254.82 L481.10,253.93 L482.51,253.04 L483.92,252.15 L485.33,251.27 L486.74,250.38 L488.16,249.49 L489.57,248.61 L490.98,247.72 L492.39,246.84 L493.80,245.95 L495.21,245.07 L496.62,244.18 L498.03,243.30 L499.44,242.41 L500.85,241.53 L502.26,240.65 L503.67,239.76 L505.08,238.88 L506.50,237.99 L507.91,237.10 L509.32,236.22 L510.73,235.33 L512.14,234.44 L513.55,233.55 L514.96,232.66 L516.37,231.77 L517.78,230.88 L519.19,229.99 L520.60,229.10 L522.01,228.20 L523.42,227.31 L524.83,226.42 L526.25,225.52 L527.66,224.63 L529.07,223.73 L530.48,222.84 L531.89,221.94 L533.30,221.05 L534.71,220.15 L536.12,219.26 L537.53,218.36 L538.94,217.47 L540.35,216.57 L541.76,215.68 L543.17,214.78 L544.58,213.89 L546.00,212.99 L547.41,212.10 L548.82,211.20 L550.23,210.31 L551.64,209.42 L553.05,208.52 L554.46,207.63 L555.87,206.74 L557.28,205.84 L558.69,204.95 L560.10,204.06 L561.51,203.17 L562.92,202.28 L564.33,201.39 L565.75,200.50 L567.16,199.61 L568.57,198.72 L569.98,197.83 L571.39,196.94 L572.80,196.05 L574.21,195.16 L575.62,194.28 L577.03,193.39 L578.44,192.50 L579.85,191.62 L581.26,190.73 L582.67,189.84 L584.08,188.96 L585.50,188.07 L586.91,187.19 L588.32,186.30 L589.73,185.42 L591.14,184.54 L592.55,183.65 L593.96,182.77 L595.37,181.88 L596.78,181.00 L598.19,180.12 L599.60,179.23 L601.01,178.35 L602.42,177.46 L603.83,176.58 L605.25,175.69 L606.66,174.81 L608.07,173.92 L609.48,173.03 L610.89,172.15 L612.30,171.26 L613.71,170.37 L615.12,169.48 L616.53,168.58 L617.94,167.69 L619.35,166.80 L620.76,165.90 L622.17,165.01 L623.58,164.11 L625.00,163.21 L626.41,162.31 L627.82,161.41 L629.23,160.51 L630.64,159.61 L632.05,158.70 L633.46,157.80 L634.87,156.89 L636.28,155.98 L637.69,155.08 L639.10,154.17 L640.51,153.26 L641.92,152.35 L643.34,151.44 L644.75,150.53 L646.16,149.62 L647.57,148.70 L648.98,147.79 L650.39,146.88 L651.80,145.96 L653.21,145.05 L654.62,144.14 L656.03,143.22 L657.44,142.31 L658.85,141.39 L660.26,140.48 L661.67,139.57 L663.09,138.65 L664.50,137.74 L665.91,136.82 L667.32,135.91 L668.73,135.00 L670.14,134.09 L671.55,133.18 L672.96,132.27 L674.37,131.37 L675.78,130.46 L677.19,129.56 L678.60,128.66 L680.01,127.76 L681.42,126.87 L682.84,125.97 L684.25,125.08 L685.66,124.19 L687.07,123.31 L688.48,122.43 L689.89,121.55 L691.30,120.68 L692.71,119.81 L694.12,118.94 L695.53,118.08 L696.94,117.22 L698.35,116.37 L699.76,115.52 L701.17,114.67 L702.59,113.83 L704.00,112.99 L705.41,112.16 L706.82,111.32 L708.23,110.49 L709.64,109.66 L711.05,108.83 L712.46,108.00 L713.87,107.18 L715.28,106.35 L716.69,105.52 L718.10,104.70 L719.51,103.87 L720.92,103.05 L722.34,102.22 L723.75,101.39 L725.16,100.56 L726.57,99.73 L727.98,98.89 L729.39,98.06 L730.80,97.22 L732.21,96.37 L733.62,95.53 L735.03,94.68 L736.44,93.83 L737.85,92.97 L739.26,92.11 L740.67,91.25 L742.09,90.39 L743.50,89.52 L744.91,88.66 L746.32,87.79 L747.73,86.92 L749.14,86.04 L750.55,85.17 L751.96,84.30 L753.37,83.42 L754.78,82.55 L756.19,81.67 L757.60,80.80 L759.01,79.92 L760.42,79.04 L761.84,78.17 L763.25,77.29 L764.66,76.41 L766.07,75.54 L767.48,74.66 L768.89,73.78 L770.30,72.90" fill="none" stroke="#000000" stroke-width="4.00" stroke-dasharray="9.222,9.222" stroke-linecap="square"/>
<path d="M29.30,516.40 L29.92,515.80 L30.54,515.23 L31.15,514.69 L31.77,514.17 L32.39,513.67 L33.01,513.19 L33.62,512.72 L34.24,512.27 L34.86,511.82 L35.48,511.39 L36.09,510.96 L36.71,510.53 L37.33,510.10 L37.95,509.67 L38.56,509.24 L39.18,508.81 L39.80,508.37 L40.41,507.92 L41.03,507.46 L41.65,506.99 L42.27,506.51 L42.88,506.02 L43.50,505.52 L44.12,505.00 L44.74,504.48 L45.36,503.95 L45.97,503.41 L46.59,502.87 L47.21,502.32 L47.83,501.76 L48.44,501.20 L49.06,500.64 L49.68,500.08 L50.30,499.51 L50.91,498.95 L51.53,498.38 L52.15,497.82 L52.77,497.26 L53.38,496.69 L54.00,496.14 L54.62,495.58 L55.23,495.02 L55.85,494.46 L56.47,493.91 L57.09,493.36 L57.70,492.80 L58.32,492.25 L58.94,491.70 L59.56,491.15 L60.17,490.60 L60.79,490.05 L61.41,489.51 L62.03,488.96 L62.64,488.41 L63.26,487.87 L63.88,487.32 L64.50,486.78 L65.11,486.25 L65.73,485.72 L66.35,485.19 L67.76,484.02 L69.17,482.91 L70.58,481.85 L71.99,480.85 L73.40,479.90 L74.81,478.98 L76.23,478.10 L77.64,477.24 L79.05,476.41 L80.46,475.59 L81.87,474.77 L83.28,473.96 L84.69,473.15 L86.10,472.32 L87.51,471.47 L88.92,470.61 L90.33,469.71 L91.74,468.80 L93.15,467.87 L94.56,466.94 L95.98,466.01 L97.39,465.09 L98.80,464.19 L100.21,463.30 L101.62,462.45 L103.03,461.64 L104.44,460.87 L105.85,460.13 L107.26,459.43 L108.67,458.75 L110.08,458.07 L111.49,457.40 L112.90,456.72 L114.31,456.02 L115.73,455.29 L117.14,454.53 L118.55,453.72 L119.96,452.86 L121.37,451.95 L122.78,451.00 L124.19,450.02 L125.60,449.02 L127.01,447.99 L128.42,446.96 L129.83,445.92 L131.24,444.89 L132.65,443.86 L134.06,442.86 L135.48,441.87 L136.89,440.92 L138.30,439.98 L139.71,439.07 L141.12,438.18 L142.53,437.30 L143.94,436.43 L145.35,435.58 L146.76,434.73 L148.17,433.88 L149.58,433.03 L150.99,432.19 L152.40,431.33 L153.81,430.47 L155.23,429.61 L156.64,428.74 L158.05,427.87 L159.46,426.99 L160.87,426.11 L162.28,425.23 L163.69,424.35 L165.10,423.46 L166.51,422.58 L167.92,421.69 L169.33,420.80 L170.74,419.91 L172.15,419.03 L173.56,418.14 L174.98,417.26 L176.39,416.38 L177.80,415.51 L179.21,414.63 L180.62,413.77 L182.03,412.90 L183.44,412.04 L184.85,411.19 L186.26,410.35 L187.67,409.51 L189.08,408.68 L190.49,407.85 L191.90,407.02 L193.31,406.21 L194.73,405.39 L196.14,404.58 L197.55,403.78 L198.96,402.97 L200.37,402.17 L201.78,401.38 L203.19,400.58 L204.60,399.79 L206.01,399.00 L207.42,398.21 L208.83,397.42 L210.24,396.63 L211.65,395.84 L213.07,395.05 L214.48,394.27 L215.89,393.48 L217.30,392.70 L218.71,391.91 L220.12,391.12 L221.53,390.34 L222.94,389.55 L224.35,388.76 L225.76,387.97 L227.17,387.18 L228.58,386.39 L229.99,385.60 L231.40,384.81 L232.82,384.01 L234.23,383.22 L235.64,382.43 L237.05,381.64 L238.46,380.84 L239.87,380.05 L241.28,379.25 L242.69,378.46 L244.10,377.66 L245.51,376.86 L246.92,376.07 L248.33,375.26 L249.74,374.46 L251.15,373.66 L252.57,372.85 L253.98,372.04 L255.39,371.23 L256.80,370.42 L258.21,369.60 L259.62,368.79 L261.03,367.97 L262.44,367.15 L263.85,366.32 L265.26,365.50 L266.67,364.68 L268.08,363.85 L269.49,363.03 L270.90,362.20 L272.32,361.38 L273.73,360.55 L275.14,359.73 L276.55,358.90 L277.96,358.07 L279.37,357.25 L280.78,356.42 L282.19,355.59 L283.60,354.76 L285.01,353.93 L286.42,353.10 L287.83,352.27 L289.24,351.43 L290.65,350.60 L292.07,349.76 L293.48,348.92 L294.89,348.08 L296.30,347.24 L297.71,346.39 L299.12,345.55 L300.53,344.71 L301.94,343.86 L303.35,343.01 L304.76,342.17 L306.17,341.32 L307.58,340.47 L308.99,339.62 L310.40,338.77 L311.82,337.92 L313.23,337.07 L314.64,336.22 L316.05,335.37 L317.46,334.51 L318.87,333.66 L320.28,332.81 L321.69,331.96 L323.10,331.11 L324.51,330.26 L325.92,329.41 L327.33,328.56 L328.74,327.71 L330.15,326.86 L331.57,326.01 L332.98,325.16 L334.39,324.31 L335.80,323.46 L337.21,322.62 L338.62,321.77 L340.03,320.93 L341.44,320.08 L342.85,319.24 L344.26,318.40 L345.67,317.56 L347.08,316.72 L348.49,315.88 L349.91,315.05 L351.32,314.21 L352.73,313.37 L354.14,312.54 L355.55,311.70 L356.96,310.86 L358.37,310.03 L359.78,309.19 L361.19,308.35 L362.60,307.52 L364.01,306.68 L365.42,305.84 L366.83,304.99 L368.24,304.15 L369.66,303.30 L371.07,302.46 L372.48,301.61 L373.89,300.76 L375.30,299.90 L376.71,299.04 L378.12,298.19 L379.53,297.32 L380.94,296.46 L382.35,295.59 L383.76,294.72 L385.17,293.84 L386.58,292.97 L387.99,292.09 L389.41,291.21 L390.82,290.33 L392.23,289.46 L393.64,288.58 L395.05,287.70 L396.46,286.83 L397.87,285.96 L399.28,285.09 L400.69,284.22 L402.10,283.36 L403.51,282.51 L404.92,281.65 L406.33,280.80 L407.74,279.95 L409.16,279.11 L410.57,278.26 L411.98,277.42 L413.39,276.58 L414.80,275.75 L416.21,274.91 L417.62,274.08 L419.03,273.25 L420.44,272.42 L421.85,271.59 L423.26,270.76 L424.67,269.93 L426.08,269.10 L427.49,268.27 L428.91,267.44 L430.32,266.61 L431.73,265.78 L433.14,264.95 L434.55,264.12 L435.96,263.29 L437.37,262.46 L438.78,261.63 L440.19,260.79 L441.60,259.95 L443.01,259.12 L444.42,258.28 L445.83,257.44 L447.24,256.60 L448.66,255.76 L450.07,254.92 L451.48,254.08 L452.89,253.23 L454.30,252.39 L455.71,251.55 L457.12,250.71 L458.53,249.86 L459.94,249.02 L461.35,248.18 L462.76,247.33 L464.17,246.49 L465.58,245.65 L466.99,244.80 L468.41,243.96 L469.82,243.12 L471.23,242.28 L472.64,241.44 L474.05,240.60 L475.46,239.76 L476.87,238.93 L478.28,238.09 L479.69,237.25 L481.10,236.42 L482.51,235.58 L483.92,234.75 L485.33,233.91 L486.74,233.08 L488.16,232.25 L489.57,231.41 L490.98,230.58 L492.39,229.75 L493.80,228.92 L495.21,228.08 L496.62,227.25 L498.03,226.42 L499.44,225.59 L500.85,224.75 L502.26,223.92 L503.67,223.09 L505.08,222.26 L506.50,221.42 L507.91,220.59 L509.32,219.76 L510.73,218.92 L512.14,218.09 L513.55,217.25 L514.96,216.41 L516.37,215.58 L517.78,214.74 L519.19,213.91 L520.60,213.07 L522.01,212.24 L523.42,211.40 L524.83,210.57 L526.25,209.74 L527.66,208.90 L529.07,208.07 L530.48,207.24 L531.89,206.42 L533.30,205.59 L534.71,204.77 L536.12,203.94 L537.53,203.12 L538.94,202.31 L540.35,201.49 L541.76,200.68 L543.17,199.87 L544.58,199.06 L546.00,198.26 L547.41,197.46 L548.82,196.66 L550.23,195.87 L551.64,195.07 L553.05,194.28 L554.46,193.50 L555.87,192.71 L557.28,191.93 L558.69,191.15 L560.10,190.37 L561.51,189.59 L562.92,188.81 L564.33,188.03 L565.75,187.26 L567.16,186.48 L568.57,185.70 L569.98,184.92 L571.39,184.14 L572.80,183.35 L574.21,182.57 L575.62,181.78 L577.03,180.99 L578.44,180.20 L579.85,179.41 L581.26,178.61 L582.67,177.81 L584.08,177.01 L585.50,176.20 L586.91,175.38 L588.32,174.57 L589.73,173.75 L591.14,172.92 L592.55,172.10 L593.96,171.27 L595.37,170.44 L596.78,169.60 L598.19,168.77 L599.60,167.93 L601.01,167.09 L602.42,166.26 L603.83,165.42 L605.25,164.58 L606.66,163.74 L608.07,162.90 L609.48,162.06 L610.89,161.23 L612.30,160.39 L613.71,159.56 L615.12,158.73 L616.53,157.90 L617.94,157.07 L619.35,156.25 L620.76,155.43 L622.17,154.61 L623.58,153.80 L625.00,152.99 L626.41,152.18 L627.82,151.38 L629.23,150.58 L630.64,149.79 L632.05,148.99 L633.46,148.20 L634.87,147.41 L636.28,146.62 L637.69,145.84 L639.10,145.06 L640.51,144.27 L641.92,143.49 L643.34,142.72 L644.75,141.94 L646.16,141.16 L647.57,140.38 L648.98,139.61 L650.39,138.83 L651.80,138.05 L653.21,137.28 L654.62,136.50 L656.03,135.72 L657.44,134.94 L658.85,134.17 L660.26,133.39 L661.67,132.60 L663.09,131.82 L664.50,131.04 L665.91,130.25 L667.32,129.47 L668.73,128.68 L670.14,127.89 L671.55,127.11 L672.96,126.32 L674.37,125.53 L675.78,124.74 L677.19,123.95 L678.60,123.16 L680.01,122.37 L681.42,121.57 L682.84,120.78 L684.25,119.99 L685.66,119.20 L687.07,118.40 L688.48,117.61 L689.89,116.82 L691.30,116.03 L692.71,115.23 L694.12,114.44 L695.53,113.65 L696.94,112.86 L698.35,112.06 L699.76,111.27 L701.17,110.48 L702.59,109.69 L704.00,108.90 L705.41,108.11 L706.82,107.32 L708.23,106.53 L709.64,105.74 L711.05,104.96 L712.46,104.17 L713.87,103.38 L715.28,102.59 L716.69,101.81 L718.10,101.02 L719.51,100.24 L720.92,99.46 L722.34,98.67 L723.75,97.89 L725.16,97.11 L726.57,96.33 L727.98,95.55 L729.39,94.78 L730.80,94.00 L732.21,93.22 L733.62,92.45 L735.03,91.67 L736.44,90.90 L737.85,90.13 L739.26,89.36 L740.67,88.59 L742.09,87.82 L743.50,87.06 L744.91,86.30 L746.32,85.54 L747.73,84.78 L749.14,84.02 L750.55,83.27 L751.96,82.51 L753.37,81.76 L754.78,81.02 L756.19,80.27 L757.60,79.53 L759.01,78.79 L760.42,78.05 L761.84,77.31 L763.25,76.57 L764.66,75.84 L766.07,75.10 L767.48,74.37 L768.89,73.64 L770.30,72.90" fill="none" stroke="#ff8000" stroke-width="4.00" stroke-dasharray="9.222,9.222" stroke-linecap="square"/>
<path d="M29.30,516.40 L29.92,515.87 L30.54,515.33 L31.15,514.80 L31.77,514.27 L32.39,513.73 L33.01,513.20 L33.62,512.67 L34.24,512.14 L34.86,511.61 L35.48,511.09 L36.09,510.56 L36.71,510.03 L37.33,509.50 L37.95,508.98 L38.56,508.45 L39.18,507.93 L39.80,507.40 L40.41,506.88 L41.03,506.36 L41.65,505.84 L42.27,505.31 L42.88,504.77 L43.50,504.22 L44.12,503.67 L44.74,503.10 L45.36,502.53 L45.97,501.96 L46.59,501.38 L47.21,500.80 L47.83,500.21 L48.44,499.62 L49.06,499.03 L49.68,498.44 L50.30,497.85 L50.91,497.26 L51.53,496.67 L52.15,496.08 L52.77,495.47 L53.38,494.85 L54.00,494.22 L54.62,493.58 L55.23,492.93 L55.85,492.28 L56.47,491.63 L57.09,490.98 L57.70,490.33 L58.32,489.68 L58.94,489.05 L59.56,488.42 L60.17,487.79 L60.79,487.19 L61.41,486.59 L62.03,486.02 L62.64,485.46 L63.26,484.91 L63.88,484.37 L64.50,483.82 L65.11,483.28 L65.73,482.75 L66.35,482.22 L67.76,481.03 L69.17,479.90 L70.58,478.80 L71.99,477.74 L73.40,476.71 L74.81,475.70 L76.23,474.71 L77.64,473.74 L79.05,472.78 L80.46,471.83 L81.87,470.87 L83.28,469.91 L84.69,468.94 L86.10,467.95 L87.51,466.95 L88.92,465.92 L90.33,464.88 L91.74,463.84 L93.15,462.80 L94.56,461.76 L95.98,460.72 L97.39,459.67 L98.80,458.63 L100.21,457.59 L101.62,456.55 L103.03,455.51 L104.44,454.47 L105.85,453.44 L107.26,452.40 L108.67,451.37 L110.08,450.34 L111.49,449.31 L112.90,448.28 L114.31,447.26 L115.73,446.24 L117.14,445.22 L118.55,444.21 L119.96,443.21 L121.37,442.20 L122.78,441.20 L124.19,440.21 L125.60,439.22 L127.01,438.23 L128.42,437.25 L129.83,436.26 L131.24,435.28 L132.65,434.30 L134.06,433.33 L135.48,432.35 L136.89,431.37 L138.30,430.39 L139.71,429.41 L141.12,428.43 L142.53,427.45 L143.94,426.47 L145.35,425.48 L146.76,424.49 L148.17,423.50 L149.58,422.51 L150.99,421.51 L152.40,420.50 L153.81,419.50 L155.23,418.50 L156.64,417.50 L158.05,416.50 L159.46,415.51 L160.87,414.52 L162.28,413.52 L163.69,412.53 L165.10,411.54 L166.51,410.56 L167.92,409.57 L169.33,408.59 L170.74,407.61 L172.15,406.63 L173.56,405.65 L174.98,404.67 L176.39,403.70 L177.80,402.72 L179.21,401.75 L180.62,400.78 L182.03,399.81 L183.44,398.84 L184.85,397.87 L186.26,396.91 L187.67,395.95 L189.08,394.98 L190.49,394.02 L191.90,393.06 L193.31,392.11 L194.73,391.15 L196.14,390.20 L197.55,389.24 L198.96,388.29 L200.37,387.34 L201.78,386.39 L203.19,385.45 L204.60,384.50 L206.01,383.55 L207.42,382.61 L208.83,381.67 L210.24,380.73 L211.65,379.79 L213.07,378.85 L214.48,377.92 L215.89,376.98 L217.30,376.05 L218.71,375.11 L220.12,374.18 L221.53,373.25 L222.94,372.33 L224.35,371.40 L225.76,370.47 L227.17,369.55 L228.58,368.62 L229.99,367.70 L231.40,366.78 L232.82,365.86 L234.23,364.94 L235.64,364.03 L237.05,363.11 L238.46,362.20 L239.87,361.28 L241.28,360.37 L242.69,359.46 L244.10,358.55 L245.51,357.64 L246.92,356.73 L248.33,355.83 L249.74,354.92 L251.15,354.02 L252.57,353.12 L253.98,352.21 L255.39,351.31 L256.80,350.41 L258.21,349.52 L259.62,348.62 L261.03,347.72 L262.44,346.83 L263.85,345.94 L265.26,345.04 L266.67,344.15 L268.08,343.26 L269.49,342.37 L270.90,341.48 L272.32,340.60 L273.73,339.71 L275.14,338.83 L276.55,337.94 L277.96,337.06 L279.37,336.18 L280.78,335.30 L282.19,334.42 L283.60,333.54 L285.01,332.66 L286.42,331.79 L287.83,330.91 L289.24,330.04 L290.65,329.16 L292.07,328.29 L293.48,327.42 L294.89,326.55 L296.30,325.68 L297.71,324.81 L299.12,323.95 L300.53,323.08 L301.94,322.21 L303.35,321.35 L304.76,320.49 L306.17,319.63 L307.58,318.76 L308.99,317.90 L310.40,317.04 L311.82,316.19 L313.23,315.33 L314.64,314.47 L316.05,313.62 L317.46,312.76 L318.87,311.91 L320.28,311.06 L321.69,310.20 L323.10,309.35 L324.51,308.50 L325.92,307.66 L327.33,306.81 L328.74,305.96 L330.15,305.11 L331.57,304.27 L332.98,303.42 L334.39,302.58 L335.80,301.74 L337.21,300.90 L338.62,300.06 L340.03,299.22 L341.44,298.38 L342.85,297.54 L344.26,296.70 L345.67,295.86 L347.08,295.03 L348.49,294.19 L349.91,293.36 L351.32,292.53 L352.73,291.70 L354.14,290.86 L355.55,290.03 L356.96,289.20 L358.37,288.38 L359.78,287.55 L361.19,286.72 L362.60,285.89 L364.01,285.07 L365.42,284.24 L366.83,283.42 L368.24,282.60 L369.66,281.78 L371.07,280.95 L372.48,280.13 L373.89,279.31 L375.30,278.49 L376.71,277.68 L378.12,276.86 L379.53,276.04 L380.94,275.23 L382.35,274.41 L383.76,273.60 L385.17,272.78 L386.58,271.97 L387.99,271.16 L389.41,270.35 L390.82,269.54 L392.23,268.73 L393.64,267.92 L395.05,267.11 L396.46,266.31 L397.87,265.50 L399.28,264.69 L400.69,263.89 L402.10,263.08 L403.51,262.28 L404.92,261.48 L406.33,260.68 L407.74,259.87 L409.16,259.07 L410.57,258.27 L411.98,257.47 L413.39,256.68 L414.80,255.88 L416.21,255.08 L417.62,254.29 L419.03,253.49 L420.44,252.70 L421.85,251.90 L423.26,251.11 L424.67,250.31 L426.08,249.52 L427.49,248.73 L428.91,247.94 L430.32,247.15 L431.73,246.36 L433.14,245.57 L434.55,244.79 L435.96,244.00 L437.37,243.21 L438.78,242.43 L440.19,241.64 L441.60,240.86 L443.01,240.07 L444.42,239.29 L445.83,238.51 L447.24,237.73 L448.66,236.95 L450.07,236.16 L451.48,235.39 L452.89,234.61 L454.30,233.83 L455.71,233.05 L457.12,232.27 L458.53,231.50 L459.94,230.72 L461.35,229.95 L462.76,229.17 L464.17,228.40 L465.58,227.62 L466.99,226.85 L468.41,226.08 L469.82,225.31 L471.23,224.54 L472.64,223.77 L474.05,223.00 L475.46,222.23 L476.87,221.46 L478.28,220.69 L479.69,219.93 L481.10,219.16 L482.51,218.39 L483.92,217.63 L485.33,216.87 L486.74,216.10 L488.16,215.34 L489.57,214.58 L490.98,213.81 L492.39,213.05 L493.80,212.29 L495.21,211.53 L496.62,210.77 L498.03,210.01 L499.44,209.25 L500.85,208.50 L502.26,207.74 L503.67,206.98 L505.08,206.23 L506.50,205.47 L507.91,204.72 L509.32,203.96 L510.73,203.21 L512.14,202.46 L513.55,201.70 L514.96,200.95 L516.37,200.20 L517.78,199.45 L519.19,198.70 L520.60,197.95 L522.01,197.20 L523.42,196.45 L524.83,195.70 L526.25,194.95 L527.66,194.21 L529.07,193.46 L530.48,192.72 L531.89,191.97 L533.30,191.23 L534.71,190.48 L536.12,189.74 L537.53,189.00 L538.94,188.25 L540.35,187.51 L541.76,186.77 L543.17,186.03 L544.58,185.29 L546.00,184.55 L547.41,183.81 L548.82,183.07 L550.23,182.33 L551.64,181.59 L553.05,180.86 L554.46,180.12 L555.87,179.39 L557.28,178.65 L558.69,177.91 L560.10,177.18 L561.51,176.45 L562.92,175.71 L564.33,174.98 L565.75,174.25 L567.16,173.52 L568.57,172.78 L569.98,172.05 L571.39,171.32 L572.80,170.59 L574.21,169.86 L575.62,169.14 L577.03,168.41 L578.44,167.68 L579.85,166.95 L581.26,166.23 L582.67,165.50 L584.08,164.77 L585.50,164.05 L586.91,163.32 L588.32,162.60 L589.73,161.88 L591.14,161.15 L592.55,160.43 L593.96,159.71 L595.37,158.98 L596.78,158.26 L598.19,157.54 L599.60,156.82 L601.01,156.10 L602.42,155.38 L603.83,154.66 L605.25,153.95 L606.66,153.23 L608.07,152.51 L609.48,151.79 L610.89,151.08 L612.30,150.36 L613.71,149.65 L615.12,148.93 L616.53,148.22 L617.94,147.50 L619.35,146.79 L620.76,146.07 L622.17,145.36 L623.58,144.65 L625.00,143.94 L626.41,143.23 L627.82,142.52 L629.23,141.80 L630.64,141.09 L632.05,140.39 L633.46,139.68 L634.87,138.97 L636.28,138.26 L637.69,137.55 L639.10,136.84 L640.51,136.14 L641.92,135.43 L643.34,134.73 L644.75,134.02 L646.16,133.32 L647.57,132.61 L648.98,131.91 L650.39,131.20 L651.80,130.50 L653.21,129.80 L654.62,129.09 L656.03,128.39 L657.44,127.69 L658.85,126.99 L660.26,126.29 L661.67,125.59 L663.09,124.89 L664.50,124.19 L665.91,123.49 L667.32,122.79 L668.73,122.09 L670.14,121.40 L671.55,120.70 L672.96,120.00 L674.37,119.31 L675.78,118.61 L677.19,117.92 L678.60,117.22 L680.01,116.53 L681.42,115.83 L682.84,115.14 L684.25,114.44 L685.66,113.75 L687.07,113.06 L688.48,112.37 L689.89,111.68 L691.30,110.98 L692.71,110.29 L694.12,109.60 L695.53,108.91 L696.94,108.22 L698.35,107.53 L699.76,106.85 L701.17,106.16 L702.59,105.47 L704.00,104.78 L705.41,104.09 L706.82,103.41 L708.23,102.72 L709.64,102.04 L711.05,101.35 L712.46,100.66 L713.87,99.98 L715.28,99.30 L716.69,98.61 L718.10,97.93 L719.51,97.24 L720.92,96.56 L722.34,95.88 L723.75,95.20 L725.16,94.52 L726.57,93.83 L727.98,93.15 L729.39,92.47 L730.80,91.79 L732.21,91.11 L733.62,90.43 L735.03,89.76 L736.44,89.08 L737.85,88.40 L739.26,87.72 L740.67,87.04 L742.09,86.37 L743.50,85.69 L744.91,85.01 L746.32,84.34 L747.73,83.66 L749.14,82.99 L750.55,82.31 L751.96,81.64 L753.37,80.96 L754.78,80.29 L756.19,79.62 L757.60,78.94 L759.01,78.27 L760.42,77.60 L761.84,76.93 L763.25,76.26 L764.66,75.59 L766.07,74.91 L767.48,74.24 L768.89,73.57 L770.30,72.90" fill="none" stroke="#800080" stroke-width="4.00" stroke-dasharray="9.222,9.222" stroke-linecap="square"/>
<path d="M29.30,516.40 L29.92,515.53 L30.54,514.67 L31.15,513.81 L31.77,512.96 L32.39,512.12 L33.01,511.29 L33.62,510.46 L34.24,509.64 L34.86,508.82 L35.48,508.01 L36.09,507.21 L36.71,506.41 L37.33,505.62 L37.95,504.83 L38.56,504.05 L39.18,503.27 L39.80,502.50 L40.41,501.73 L41.03,500.97 L41.65,500.21 L42.27,499.46 L42.88,498.71 L43.50,497.97 L44.12,497.23 L44.74,496.49 L45.36,495.76 L45.97,495.03 L46.59,494.31 L47.21,493.59 L47.83,492.88 L48.44,492.16 L49.06,491.45 L49.68,490.75 L50.30,490.05 L50.91,489.35 L51.53,488.65 L52.15,487.96 L52.77,487.27 L53.38,486.59 L54.00,485.91 L54.62,485.23 L55.23,484.55 L55.85,483.88 L56.47,483.21 L57.09,482.54 L57.70,481.88 L58.32,481.22 L58.94,480.56 L59.56,479.90 L60.17,479.25 L60.79,478.60 L61.41,477.95 L62.03,477.30 L62.64,476.66 L63.26,476.02 L63.88,475.38 L64.50,474.74 L65.11,474.11 L65.73,473.48 L66.35,472.85 L67.76,471.42 L69.17,470.00 L70.58,468.59 L71.99,467.20 L73.40,465.81 L74.81,464.44 L76.23,463.07 L77.64,461.71 L79.05,460.37 L80.46,459.03 L81.87,457.70 L83.28,456.38 L84.69,455.07 L86.10,453.76 L87.51,452.47 L88.92,451.18 L90.33,449.90 L91.74,448.63 L93.15,447.36 L94.56,446.10 L95.98,444.85 L97.39,443.61 L98.80,442.37 L100.21,441.14 L101.62,439.91 L103.03,438.69 L104.44,437.48 L105.85,436.28 L107.26,435.08 L108.67,433.88 L110.08,432.69 L111.49,431.51 L112.90,430.33 L114.31,429.16 L115.73,427.99 L117.14,426.83 L118.55,425.67 L119.96,424.52 L121.37,423.37 L122.78,422.23 L124.19,421.09 L125.60,419.96 L127.01,418.83 L128.42,417.71 L129.83,416.59 L131.24,415.48 L132.65,414.37 L134.06,413.26 L135.48,412.16 L136.89,411.06 L138.30,409.97 L139.71,408.88 L141.12,407.80 L142.53,406.71 L143.94,405.64 L145.35,404.56 L146.76,403.49 L148.17,402.43 L149.58,401.36 L150.99,400.31 L152.40,399.25 L153.81,398.20 L155.23,397.15 L156.64,396.11 L158.05,395.06 L159.46,394.03 L160.87,392.99 L162.28,391.96 L163.69,390.93 L165.10,389.91 L166.51,388.88 L167.92,387.86 L169.33,386.85 L170.74,385.84 L172.15,384.83 L173.56,383.82 L174.98,382.82 L176.39,381.81 L177.80,380.82 L179.21,379.82 L180.62,378.83 L182.03,377.84 L183.44,376.85 L184.85,375.87 L186.26,374.89 L187.67,373.91 L189.08,372.93 L190.49,371.96 L191.90,370.98 L193.31,370.02 L194.73,369.05 L196.14,368.09 L197.55,367.13 L198.96,366.17 L200.37,365.21 L201.78,364.26 L203.19,363.30 L204.60,362.36 L206.01,361.41 L207.42,360.46 L208.83,359.52 L210.24,358.58 L211.65,357.64 L213.07,356.71 L214.48,355.77 L215.89,354.84 L217.30,353.91 L218.71,352.99 L220.12,352.06 L221.53,351.14 L222.94,350.22 L224.35,349.30 L225.76,348.38 L227.17,347.47 L228.58,346.56 L229.99,345.65 L231.40,344.74 L232.82,343.83 L234.23,342.93 L235.64,342.02 L237.05,341.12 L238.46,340.22 L239.87,339.33 L241.28,338.43 L242.69,337.54 L244.10,336.65 L245.51,335.76 L246.92,334.87 L248.33,333.98 L249.74,333.10 L251.15,332.21 L252.57,331.33 L253.98,330.45 L255.39,329.58 L256.80,328.70 L258.21,327.83 L259.62,326.95 L261.03,326.08 L262.44,325.21 L263.85,324.35 L265.26,323.48 L266.67,322.62 L268.08,321.75 L269.49,320.89 L270.90,320.03 L272.32,319.18 L273.73,318.32 L275.14,317.47 L276.55,316.61 L277.96,315.76 L279.37,314.91 L280.78,314.06 L282.19,313.21 L283.60,312.37 L285.01,311.52 L286.42,310.68 L287.83,309.84 L289.24,309.00 L290.65,308.16 L292.07,307.33 L293.48,306.49 L294.89,305.66 L296.30,304.82 L297.71,303.99 L299.12,303.16 L300.53,302.33 L301.94,301.51 L303.35,300.68 L304.76,299.85 L306.17,299.03 L307.58,298.21 L308.99,297.39 L310.40,296.57 L311.82,295.75 L313.23,294.94 L314.64,294.12 L316.05,293.31 L317.46,292.49 L318.87,291.68 L320.28,290.87 L321.69,290.06 L323.10,289.25 L324.51,288.45 L325.92,287.64 L327.33,286.84 L328.74,286.03 L330.15,285.23 L331.57,284.43 L332.98,283.63 L334.39,282.83 L335.80,282.04 L337.21,281.24 L338.62,280.45 L340.03,279.65 L341.44,278.86 L342.85,278.07 L344.26,277.28 L345.67,276.49 L347.08,275.70 L348.49,274.91 L349.91,274.13 L351.32,273.34 L352.73,272.56 L354.14,271.78 L355.55,271.00 L356.96,270.22 L358.37,269.44 L359.78,268.66 L361.19,267.88 L362.60,267.11 L364.01,266.33 L365.42,265.56 L366.83,264.78 L368.24,264.01 L369.66,263.24 L371.07,262.47 L372.48,261.70 L373.89,260.93 L375.30,260.17 L376.71,259.40 L378.12,258.64 L379.53,257.87 L380.94,257.11 L382.35,256.35 L383.76,255.59 L385.17,254.83 L386.58,254.07 L387.99,253.31 L389.41,252.55 L390.82,251.80 L392.23,251.04 L393.64,250.29 L395.05,249.54 L396.46,248.78 L397.87,248.03 L399.28,247.28 L400.69,246.53 L402.10,245.78 L403.51,245.03 L404.92,244.29 L406.33,243.54 L407.74,242.80 L409.16,242.05 L410.57,241.31 L411.98,240.57 L413.39,239.83 L414.80,239.08 L416.21,238.35 L417.62,237.61 L419.03,236.87 L420.44,236.13 L421.85,235.39 L423.26,234.66 L424.67,233.92 L426.08,233.19 L427.49,232.46 L428.91,231.73 L430.32,230.99 L431.73,230.26 L433.14,229.53 L434.55,228.81 L435.96,228.08 L437.37,227.35 L438.78,226.62 L440.19,225.90 L441.60,225.17 L443.01,224.45 L444.42,223.73 L445.83,223.00 L447.24,222.28 L448.66,221.56 L450.07,220.84 L451.48,220.12 L452.89,219.40 L454.30,218.69 L455.71,217.97 L457.12,217.25 L458.53,216.54 L459.94,215.82 L461.35,215.11 L462.76,214.40 L464.17,213.68 L465.58,212.97 L466.99,212.26 L468.41,211.55 L469.82,210.84 L471.23,210.13 L472.64,209.43 L474.05,208.72 L475.46,208.01 L476.87,207.31 L478.28,206.60 L479.69,205.90 L481.10,205.19 L482.51,204.49 L483.92,203.79 L485.33,203.09 L486.74,202.39 L488.16,201.69 L489.57,200.99 L490.98,200.29 L492.39,199.59 L493.80,198.89 L495.21,198.20 L496.62,197.50 L498.03,196.80 L499.44,196.11 L500.85,195.42 L502.26,194.72 L503.67,194.03 L505.08,193.34 L506.50,192.65 L507.91,191.96 L509.32,191.27 L510.73,190.58 L512.14,189.89 L513.55,189.20 L514.96,188.51 L516.37,187.83 L517.78,187.14 L519.19,186.46 L520.60,185.77 L522.01,185.09 L523.42,184.40 L524.83,183.72 L526.25,183.04 L527.66,182.36 L529.07,181.68 L530.48,181.00 L531.89,180.32 L533.30,179.64 L534.71,178.96 L536.12,178.28 L537.53,177.60 L538.94,176.93 L540.35,176.25 L541.76,175.57 L543.17,174.90 L544.58,174.23 L546.00,173.55 L547.41,172.88 L548.82,172.21 L550.23,171.53 L551.64,170.86 L553.05,170.19 L554.46,169.52 L555.87,168.85 L557.28,168.18 L558.69,167.52 L560.10,166.85 L561.51,166.18 L562.92,165.51 L564.33,164.85 L565.75,164.18 L567.16,163.52 L568.57,162.85 L569.98,162.19 L571.39,161.53 L572.80,160.86 L574.21,160.20 L575.62,159.54 L577.03,158.88 L578.44,158.22 L579.85,157.56 L581.26,156.90 L582.67,156.24 L584.08,155.58 L585.50,154.93 L586.91,154.27 L588.32,153.61 L589.73,152.96 L591.14,152.30 L592.55,151.65 L593.96,150.99 L595.37,150.34 L596.78,149.68 L598.19,149.03 L599.60,148.38 L601.01,147.73 L602.42,147.08 L603.83,146.43 L605.25,145.78 L606.66,145.13 L608.07,144.48 L609.48,143.83 L610.89,143.18 L612.30,142.53 L613.71,141.89 L615.12,141.24 L616.53,140.59 L617.94,139.95 L619.35,139.30 L620.76,138.66 L622.17,138.01 L623.58,137.37 L625.00,136.73 L626.41,136.08 L627.82,135.44 L629.23,134.80 L630.64,134.16 L632.05,133.52 L633.46,132.88 L634.87,132.24 L636.28,131.60 L637.69,130.96 L639.10,130.32 L640.51,129.69 L641.92,129.05 L643.34,128.41 L644.75,127.78 L646.16,127.14 L647.57,126.50 L648.98,125.87 L650.39,125.24 L651.80,124.60 L653.21,123.97 L654.62,123.34 L656.03,122.70 L657.44,122.07 L658.85,121.44 L660.26,120.81 L661.67,120.18 L663.09,119.55 L664.50,118.92 L665.91,118.29 L667.32,117.66 L668.73,117.03 L670.14,116.40 L671.55,115.78 L672.96,115.15 L674.37,114.52 L675.78,113.90 L677.19,113.27 L678.60,112.65 L680.01,112.02 L681.42,111.40 L682.84,110.77 L684.25,110.15 L685.66,109.53 L687.07,108.90 L688.48,108.28 L689.89,107.66 L691.30,107.04 L692.71,106.42 L694.12,105.80 L695.53,105.18 L696.94,104.56 L698.35,103.94 L699.76,103.32 L701.17,102.70 L702.59,102.08 L704.00,101.47 L705.41,100.85 L706.82,100.23 L708.23,99.62 L709.64,99.00 L711.05,98.39 L712.46,97.77 L713.87,97.16 L715.28,96.54 L716.69,95.93 L718.10,95.32 L719.51,94.70 L720.92,94.09 L722.34,93.48 L723.75,92.87 L725.16,92.26 L726.57,91.65 L727.98,91.03 L729.39,90.42 L730.80,89.82 L732.21,89.21 L733.62,88.60 L735.03,87.99 L736.44,87.38 L737.85,86.77 L739.26,86.17 L740.67,85.56 L742.09,84.95 L743.50,84.35 L744.91,83.74 L746.32,83.14 L747.73,82.53 L749.14,81.93 L750.55,81.32 L751.96,80.72 L753.37,80.12 L754.78,79.51 L756.19,78.91 L757.60,78.31 L759.01,77.71 L760.42,77.11 L761.84,76.50 L763.25,75.90 L764.66,75.30 L766.07,74.70 L767.48,74.10 L768.89,73.51 L770.30,72.91" fill="none" stroke="#5e81b5" stroke-width="4.00" stroke-linejoin="round" stroke-linecap="square"/>
<line x1="14.2" y1="516.35" x2="785.6" y2="516.35" stroke="#000" stroke-width="2.5"/>
<line x1="29.2" y1="49" x2="29.2" y2="526" stroke="#000" stroke-width="2.3"/>
<line x1="66.20" y1="512.60" x2="66.20" y2="516.4" stroke="#4d4d4d" stroke-width="1.8"/>
<line x1="103.25" y1="512.60" x2="103.25" y2="516.4" stroke="#4d4d4d" stroke-width="1.8"/>
<line x1="140.30" y1="512.60" x2="140.30" y2="516.4" stroke="#4d4d4d" stroke-width="1.8"/>
<line x1="177.35" y1="512.60" x2="177.35" y2="516.4" stroke="#4d4d4d" stroke-width="1.8"/>
<line x1="214.40" y1="510.20" x2="214.40" y2="516.4" stroke="#4d4d4d" stroke-width="1.8"/>
<line x1="251.45" y1="512.60" x2="251.45" y2="516.4" stroke="#4d4d4d" stroke-width="1.8"/>
<line x1="288.50" y1="512.60" x2="288.50" y2="516.4" stroke="#4d4d4d" stroke-width="1.8"/>
<line x1="325.55" y1="512.60" x2="325.55" y2="516.4" stroke="#4d4d4d" stroke-width="1.8"/>
<line x1="362.60" y1="512.60" x2="362.60" y2="516.4" stroke="#4d4d4d" stroke-width="1.8"/>
<line x1="399.65" y1="510.20" x2="399.65" y2="516.4" stroke="#4d4d4d" stroke-width="1.8"/>
<line x1="436.70" y1="512.60" x2="436.70" y2="516.4" stroke="#4d4d4d" stroke-width="1.8"/>
<line x1="473.75" y1="512.60" x2="473.75" y2="516.4" stroke="#4d4d4d" stroke-width="1.8"/>
<line x1="510.80" y1="512.60" x2="510.80" y2="516.4" stroke="#4d4d4d" stroke-width="1.8"/>
<line x1="547.85" y1="512.60" x2="547.85" y2="516.4" stroke="#4d4d4d" stroke-width="1.8"/>
<line x1="584.90" y1="510.20" x2="584.90" y2="516.4" stroke="#4d4d4d" stroke-width="1.8"/>
<line x1="621.95" y1="512.60" x2="621.95" y2="516.4" stroke="#4d4d4d" stroke-width="1.8"/>
<line x1="659.00" y1="512.60" x2="659.00" y2="516.4" stroke="#4d4d4d" stroke-width="1.8"/>
<line x1="696.05" y1="512.60" x2="696.05" y2="516.4" stroke="#4d4d4d" stroke-width="1.8"/>
<line x1="733.10" y1="512.60" x2="733.10" y2="516.4" stroke="#4d4d4d" stroke-width="1.8"/>
<line x1="770.15" y1="510.20" x2="770.15" y2="516.4" stroke="#4d4d4d" stroke-width="1.8"/>
<line x1="29.4" y1="503.55" x2="33.10" y2="503.55" stroke="#4d4d4d" stroke-width="1.8"/>
<line x1="29.4" y1="490.69" x2="33.10" y2="490.69" stroke="#4d4d4d" stroke-width="1.8"/>
<line x1="29.4" y1="477.84" x2="33.10" y2="477.84" stroke="#4d4d4d" stroke-width="1.8"/>
<line x1="29.4" y1="464.98" x2="33.10" y2="464.98" stroke="#4d4d4d" stroke-width="1.8"/>
<line x1="29.4" y1="452.13" x2="35.40" y2="452.13" stroke="#4d4d4d" stroke-width="1.8"/>
<line x1="29.4" y1="439.28" x2="33.10" y2="439.28" stroke="#4d4d4d" stroke-width="1.8"/>
<line x1="29.4" y1="426.42" x2="33.10" y2="426.42" stroke="#4d4d4d" stroke-width="1.8"/>
<line x1="29.4" y1="413.57" x2="33.10" y2="413.57" stroke="#4d4d4d" stroke-width="1.8"/>
<line x1="29.4" y1="400.71" x2="33.10" y2="400.71" stroke="#4d4d4d" stroke-width="1.8"/>
<line x1="29.4" y1="387.86" x2="35.40" y2="387.86" stroke="#4d4d4d" stroke-width="1.8"/>
<line x1="29.4" y1="375.01" x2="33.10" y2="375.01" stroke="#4d4d4d" stroke-width="1.8"/>
<line x1="29.4" y1="362.15" x2="33.10" y2="362.15" stroke="#4d4d4d" stroke-width="1.8"/>
<line x1="29.4" y1="349.30" x2="33.10" y2="349.30" stroke="#4d4d4d" stroke-width="1.8"/>
<line x1="29.4" y1="336.44" x2="33.10" y2="336.44" stroke="#4d4d4d" stroke-width="1.8"/>
<line x1="29.4" y1="323.59" x2="35.40" y2="323.59" stroke="#4d4d4d" stroke-width="1.8"/>
<line x1="29.4" y1="310.74" x2="33.10" y2="310.74" stroke="#4d4d4d" stroke-width="1.8"/>
<line x1="29.4" y1="297.88" x2="33.10" y2="297.88" stroke="#4d4d4d" stroke-width="1.8"/>
<line x1="29.4" y1="285.03" x2="33.10" y2="285.03" stroke="#4d4d4d" stroke-width="1.8"/>
<line x1="29.4" y1="272.17" x2="33.10" y2="272.17" stroke="#4d4d4d" stroke-width="1.8"/>
<line x1="29.4" y1="259.32" x2="35.40" y2="259.32" stroke="#4d4d4d" stroke-width="1.8"/>
<line x1="29.4" y1="246.47" x2="33.10" y2="246.47" stroke="#4d4d4d" stroke-width="1.8"/>
<line x1="29.4" y1="233.61" x2="33.10" y2="233.61" stroke="#4d4d4d" stroke-width="1.8"/>
<line x1="29.4" y1="220.76" x2="33.10" y2="220.76" stroke="#4d4d4d" stroke-width="1.8"/>
<line x1="29.4" y1="207.90" x2="33.10" y2="207.90" stroke="#4d4d4d" stroke-width="1.8"/>
<line x1="29.4" y1="195.05" x2="35.40" y2="195.05" stroke="#4d4d4d" stroke-width="1.8"/>
<line x1="29.4" y1="182.20" x2="33.10" y2="182.20" stroke="#4d4d4d" stroke-width="1.8"/>
<line x1="29.4" y1="169.34" x2="33.10" y2="169.34" stroke="#4d4d4d" stroke-width="1.8"/>
<line x1="29.4" y1="156.49" x2="33.10" y2="156.49" stroke="#4d4d4d" stroke-width="1.8"/>
<line x1="29.4" y1="143.63" x2="33.10" y2="143.63" stroke="#4d4d4d" stroke-width="1.8"/>
<line x1="29.4" y1="130.78" x2="35.40" y2="130.78" stroke="#4d4d4d" stroke-width="1.8"/>
<line x1="29.4" y1="117.93" x2="33.10" y2="117.93" stroke="#4d4d4d" stroke-width="1.8"/>
<line x1="29.4" y1="105.07" x2="33.10" y2="105.07" stroke="#4d4d4d" stroke-width="1.8"/>
<line x1="29.4" y1="92.22" x2="33.10" y2="92.22" stroke="#4d4d4d" stroke-width="1.8"/>
<line x1="29.4" y1="79.36" x2="33.10" y2="79.36" stroke="#4d4d4d" stroke-width="1.8"/>
<line x1="29.4" y1="66.51" x2="35.40" y2="66.51" stroke="#4d4d4d" stroke-width="1.8"/>
<line x1="29.4" y1="53.66" x2="33.10" y2="53.66" stroke="#4d4d4d" stroke-width="1.8"/>
<g font-family="Liberation Sans, sans-serif" fill="#666" style="will-change:transform">
<text transform="translate(214.55,550.00) scale(1.020,1.050)" text-anchor="middle" font-size="28.00">5</text>
<text transform="translate(399.80,550.00) scale(1.020,1.050)" text-anchor="middle" font-size="28.00">10</text>
<text transform="translate(585.05,550.00) scale(1.020,1.050)" text-anchor="middle" font-size="28.00">15</text>
<text transform="translate(770.30,550.00) scale(1.020,1.050)" text-anchor="middle" font-size="28.00">20</text>
<text transform="translate(22.40,462.43) scale(1.020,1.050)" text-anchor="end" font-size="28.00">1</text>
<text transform="translate(22.40,398.16) scale(1.020,1.050)" text-anchor="end" font-size="28.00">2</text>
<text transform="translate(22.40,333.89) scale(1.020,1.050)" text-anchor="end" font-size="28.00">3</text>
<text transform="translate(22.40,269.62) scale(1.020,1.050)" text-anchor="end" font-size="28.00">4</text>
<text transform="translate(22.40,205.35) scale(1.020,1.050)" text-anchor="end" font-size="28.00">5</text>
<text transform="translate(22.40,141.08) scale(1.020,1.050)" text-anchor="end" font-size="28.00">6</text>
<text transform="translate(22.40,76.81) scale(1.020,1.050)" text-anchor="end" font-size="28.00">7</text>
<text transform="translate(1.80,28.60) scale(1.020,1.050)" text-anchor="start" font-size="28.00" font-style="italic">&#947;</text>
<text transform="translate(15.60,28.60) scale(1.020,1.000)" text-anchor="start" font-size="28.00">(</text>
<text transform="translate(24.70,28.60) scale(1.020,1.050)" text-anchor="start" font-size="28.00" font-style="italic">r</text>
<text transform="translate(35.20,16.70) scale(1.020,1.050)" text-anchor="start" font-size="21.00">2</text>
<text transform="translate(49.60,28.60) scale(1.020,1.000)" text-anchor="start" font-size="28.00">)</text>
<text transform="translate(804.40,527.70) scale(1.020,1.050)" text-anchor="start" font-size="28.00" font-style="italic">r</text>
<text transform="translate(815.00,515.50) scale(1.020,1.050)" text-anchor="start" font-size="21.00">2</text>
</g>
</svg>
</body></html>
